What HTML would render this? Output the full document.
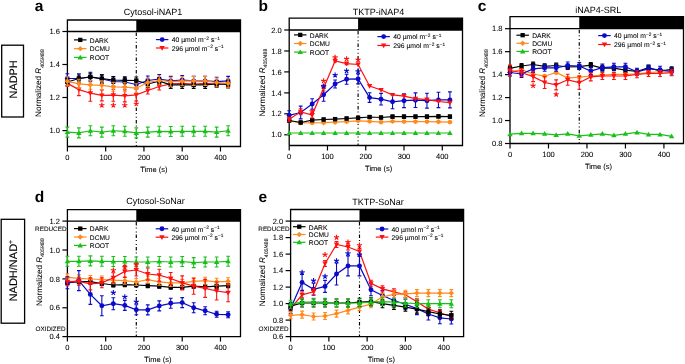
<!DOCTYPE html><html><head><meta charset="utf-8"><style>html,body{margin:0;padding:0;background:#fff;width:685px;height:364px;overflow:hidden}svg{display:block;will-change:transform}</style></head><body>
<svg width="685" height="364" viewBox="0 0 685 364" text-rendering="geometricPrecision" font-family='"Liberation Sans", sans-serif'>
<rect width="685" height="364" fill="#fff"/>
<rect x="1.7" y="45.2" width="21.8" height="71.8" fill="none" stroke="#000" stroke-width="1.3"/>
<text transform="translate(17.0,79.4) rotate(-90)" font-size="10.9" text-anchor="middle" fill="#000" stroke="#000" stroke-width="0.1">NADPH</text>
<rect x="1.2" y="219.3" width="23.4" height="103.9" fill="none" stroke="#000" stroke-width="1.3"/>
<text transform="translate(16.8,270.6) rotate(-90)" font-size="11" text-anchor="middle" fill="#000" stroke="#000" stroke-width="0.1">NADH/NAD<tspan font-size="7" dy="-4.3">+</tspan></text>
<text x="34.8" y="10.6" font-size="15.5" text-anchor="start" font-weight="bold">a</text>
<text x="153" y="14.5" font-size="9" text-anchor="middle" >Cytosol-iNAP1</text>
<rect x="136.29" y="20" width="104.21" height="11.5" fill="#000"/>
<path d="M67.4 146.5V20H240.5V146.5H67.4M67.4 31.5H240.5" stroke="#000" stroke-width="1.3" fill="none"/>
<path d="M62.4 31.5H67.4" stroke="#000" stroke-width="1.2"/>
<text x="59.9" y="34.1" font-size="7.5" text-anchor="end" fill="#000" stroke="#000" stroke-width="0.07">1.6</text>
<path d="M62.4 64.5H67.4" stroke="#000" stroke-width="1.2"/>
<text x="59.9" y="67.1" font-size="7.5" text-anchor="end" fill="#000" stroke="#000" stroke-width="0.07">1.4</text>
<path d="M62.4 97.5H67.4" stroke="#000" stroke-width="1.2"/>
<text x="59.9" y="100.1" font-size="7.5" text-anchor="end" fill="#000" stroke="#000" stroke-width="0.07">1.2</text>
<path d="M62.4 130.6H67.4" stroke="#000" stroke-width="1.2"/>
<text x="59.9" y="133.2" font-size="7.5" text-anchor="end" fill="#000" stroke="#000" stroke-width="0.07">1.0</text>
<path d="M67.4 146.5V151.5" stroke="#000" stroke-width="1.2"/>
<text x="67.4" y="160" font-size="7.5" text-anchor="middle" fill="#000" stroke="#000" stroke-width="0.07">0</text>
<path d="M105.67 146.5V151.5" stroke="#000" stroke-width="1.2"/>
<text x="105.67" y="160" font-size="7.5" text-anchor="middle" fill="#000" stroke="#000" stroke-width="0.07">100</text>
<path d="M143.94 146.5V151.5" stroke="#000" stroke-width="1.2"/>
<text x="143.94" y="160" font-size="7.5" text-anchor="middle" fill="#000" stroke="#000" stroke-width="0.07">200</text>
<path d="M182.21 146.5V151.5" stroke="#000" stroke-width="1.2"/>
<text x="182.21" y="160" font-size="7.5" text-anchor="middle" fill="#000" stroke="#000" stroke-width="0.07">300</text>
<path d="M220.48 146.5V151.5" stroke="#000" stroke-width="1.2"/>
<text x="220.48" y="160" font-size="7.5" text-anchor="middle" fill="#000" stroke="#000" stroke-width="0.07">400</text>
<text x="153.9" y="172.3" font-size="7.5" text-anchor="middle" fill="#000" stroke="#000" stroke-width="0.07">Time (s)</text>
<path d="M136.29 32.5V146.5" stroke="#000" stroke-width="1.15" stroke-dasharray="3.5 2 1 2.8 1 2.2"/>
<text transform="translate(41.3,49.1) rotate(-90)" font-size="8.1" text-anchor="end" fill="#000" stroke="#000" stroke-width="0.06">Normalized <tspan font-style="italic">R</tspan><tspan font-size="5.2" dy="2.4">405/488</tspan></text>
<path d="M74 39.9H86.5" stroke="#000" stroke-width="1.2"/>
<rect x="78.1" y="37.75" width="4.3" height="4.3" fill="#000"/>
<text x="89.8" y="42.7" font-size="6.7" text-anchor="start" fill="#000" stroke="#000" stroke-width="0.07">DARK</text>
<path d="M74 48.65H86.5" stroke="#ff8a1e" stroke-width="1.2"/>
<path d="M80.25 45.95L82.95 48.65L80.25 51.35L77.55 48.65Z" fill="#ff8a1e"/>
<text x="89.8" y="51.45" font-size="6.7" text-anchor="start" fill="#000" stroke="#000" stroke-width="0.07">DCMU</text>
<path d="M74 57.4H86.5" stroke="#18c018" stroke-width="1.2"/>
<path d="M80.25 54.7L82.95 59.42L77.55 59.42Z" fill="#18c018"/>
<text x="89.8" y="60.2" font-size="6.7" text-anchor="start" fill="#000" stroke="#000" stroke-width="0.07">ROOT</text>
<path d="M155.9 39.6H168.4" stroke="#0a0ac8" stroke-width="1.2"/>
<circle cx="162.15" cy="39.6" r="2.45" fill="#0a0ac8"/>
<text x="171.7" y="42.3" font-size="6.8" fill="#000" stroke="#000" stroke-width="0.07">40 µmol m<tspan font-size="4.8" dy="-2.5">−2</tspan><tspan dy="2.5"> s</tspan><tspan font-size="4.8" dy="-2.5">−1</tspan></text>
<path d="M155.9 48H168.4" stroke="#ff1010" stroke-width="1.2"/>
<path d="M162.15 50.7L164.85 45.98L159.45 45.98Z" fill="#ff1010"/>
<text x="171.7" y="50.7" font-size="6.8" fill="#000" stroke="#000" stroke-width="0.07">296 µmol m<tspan font-size="4.8" dy="-2.5">−2</tspan><tspan dy="2.5"> s</tspan><tspan font-size="4.8" dy="-2.5">−1</tspan></text>
<polyline points="67.4,132.08 78.88,132.87 90.36,130.76 101.84,132.08 113.32,130.76 124.81,131.29 136.29,132.87 147.77,132.08 159.25,131.29 170.73,131.55 182.21,131.29 193.69,131.29 205.17,131.29 216.65,132.08 228.13,130.76" stroke="#18c018" stroke-width="1.2" fill="none"/><path d="M67.4 127.08V137.08M65.5 127.08H69.3M65.5 137.08H69.3M78.88 127.87V137.87M76.98 127.87H80.78M76.98 137.87H80.78M90.36 125.76V135.76M88.46 125.76H92.26M88.46 135.76H92.26M101.84 127.08V137.08M99.94 127.08H103.74M99.94 137.08H103.74M113.32 125.76V135.76M111.42 125.76H115.22M111.42 135.76H115.22M124.81 126.29V136.29M122.91 126.29H126.71M122.91 136.29H126.71M136.29 127.87V137.87M134.39 127.87H138.19M134.39 137.87H138.19M147.77 127.08V137.08M145.87 127.08H149.67M145.87 137.08H149.67M159.25 126.29V136.29M157.35 126.29H161.15M157.35 136.29H161.15M170.73 126.55V136.55M168.83 126.55H172.63M168.83 136.55H172.63M182.21 126.29V136.29M180.31 126.29H184.11M180.31 136.29H184.11M193.69 126.29V136.29M191.79 126.29H195.59M191.79 136.29H195.59M205.17 126.29V136.29M203.27 126.29H207.07M203.27 136.29H207.07M216.65 127.08V137.08M214.75 127.08H218.55M214.75 137.08H218.55M228.13 125.76V135.76M226.23 125.76H230.03M226.23 135.76H230.03" stroke="#18c018" stroke-width="1.1" fill="none"/><path d="M67.4 129.38L70.1 134.1L64.7 134.1Z" fill="#18c018"/><path d="M78.88 130.17L81.58 134.89L76.18 134.89Z" fill="#18c018"/><path d="M90.36 128.06L93.06 132.79L87.66 132.79Z" fill="#18c018"/><path d="M101.84 129.38L104.54 134.1L99.14 134.1Z" fill="#18c018"/><path d="M113.32 128.06L116.02 132.79L110.62 132.79Z" fill="#18c018"/><path d="M124.81 128.59L127.51 133.32L122.11 133.32Z" fill="#18c018"/><path d="M136.29 130.17L138.99 134.89L133.59 134.89Z" fill="#18c018"/><path d="M147.77 129.38L150.47 134.1L145.07 134.1Z" fill="#18c018"/><path d="M159.25 128.59L161.95 133.32L156.55 133.32Z" fill="#18c018"/><path d="M170.73 128.85L173.43 133.58L168.03 133.58Z" fill="#18c018"/><path d="M182.21 128.59L184.91 133.32L179.51 133.32Z" fill="#18c018"/><path d="M193.69 128.59L196.39 133.32L190.99 133.32Z" fill="#18c018"/><path d="M205.17 128.59L207.87 133.32L202.47 133.32Z" fill="#18c018"/><path d="M216.65 129.38L219.35 134.1L213.95 134.1Z" fill="#18c018"/><path d="M228.13 128.06L230.83 132.79L225.43 132.79Z" fill="#18c018"/>
<polyline points="67.4,83.4 78.88,89.6 90.36,93.2 101.84,95.4 113.32,95.2 124.81,95.9 136.29,94.9 147.77,90.5 159.25,86.5 170.73,83.8 182.21,83.3 193.69,84 205.17,83.3 216.65,84 228.13,84" stroke="#ff1010" stroke-width="1.2" fill="none"/><path d="M67.4 80.4V86.4M65.5 80.4H69.3M65.5 86.4H69.3M78.88 83.6V95.6M76.98 83.6H80.78M76.98 95.6H80.78M90.36 85.2V101.2M88.46 85.2H92.26M88.46 101.2H92.26M101.84 89.9V100.9M99.94 89.9H103.74M99.94 100.9H103.74M113.32 89.2V101.2M111.42 89.2H115.22M111.42 101.2H115.22M124.81 89.9V101.9M122.91 89.9H126.71M122.91 101.9H126.71M136.29 88.9V100.9M134.39 88.9H138.19M134.39 100.9H138.19M147.77 87V94M145.87 87H149.67M145.87 94H149.67M159.25 83V90M157.35 83H161.15M157.35 90H161.15M170.73 81.3V86.3M168.83 81.3H172.63M168.83 86.3H172.63M182.21 80.8V85.8M180.31 80.8H184.11M180.31 85.8H184.11M193.69 81.5V86.5M191.79 81.5H195.59M191.79 86.5H195.59M205.17 80.8V85.8M203.27 80.8H207.07M203.27 85.8H207.07M216.65 81.5V86.5M214.75 81.5H218.55M214.75 86.5H218.55M228.13 81.5V86.5M226.23 81.5H230.03M226.23 86.5H230.03" stroke="#ff1010" stroke-width="1.1" fill="none"/><path d="M67.4 86.1L70.1 81.38L64.7 81.38Z" fill="#ff1010"/><path d="M78.88 92.3L81.58 87.57L76.18 87.57Z" fill="#ff1010"/><path d="M90.36 95.9L93.06 91.17L87.66 91.17Z" fill="#ff1010"/><path d="M101.84 98.1L104.54 93.38L99.14 93.38Z" fill="#ff1010"/><path d="M113.32 97.9L116.02 93.17L110.62 93.17Z" fill="#ff1010"/><path d="M124.81 98.6L127.51 93.88L122.11 93.88Z" fill="#ff1010"/><path d="M136.29 97.6L138.99 92.88L133.59 92.88Z" fill="#ff1010"/><path d="M147.77 93.2L150.47 88.47L145.07 88.47Z" fill="#ff1010"/><path d="M159.25 89.2L161.95 84.47L156.55 84.47Z" fill="#ff1010"/><path d="M170.73 86.5L173.43 81.77L168.03 81.77Z" fill="#ff1010"/><path d="M182.21 86L184.91 81.27L179.51 81.27Z" fill="#ff1010"/><path d="M193.69 86.7L196.39 81.97L190.99 81.97Z" fill="#ff1010"/><path d="M205.17 86L207.87 81.27L202.47 81.27Z" fill="#ff1010"/><path d="M216.65 86.7L219.35 81.97L213.95 81.97Z" fill="#ff1010"/><path d="M228.13 86.7L230.83 81.97L225.43 81.97Z" fill="#ff1010"/>
<polyline points="67.4,78.5 78.88,78.5 90.36,77 101.84,79 113.32,81.5 124.81,82 136.29,84.5 147.77,80.5 159.25,79 170.73,80.9 182.21,80 193.69,80.9 205.17,80.9 216.65,81.7 228.13,80.9" stroke="#0a0ac8" stroke-width="1.2" fill="none"/><path d="M67.4 73.7V83.3M65.5 73.7H69.3M65.5 83.3H69.3M78.88 73.7V83.3M76.98 73.7H80.78M76.98 83.3H80.78M90.36 72.2V81.8M88.46 72.2H92.26M88.46 81.8H92.26M101.84 74.5V83.5M99.94 74.5H103.74M99.94 83.5H103.74M113.32 77V86M111.42 77H115.22M111.42 86H115.22M124.81 77.5V86.5M122.91 77.5H126.71M122.91 86.5H126.71M136.29 80V89M134.39 80H138.19M134.39 89H138.19M147.77 76V85M145.87 76H149.67M145.87 85H149.67M159.25 74.5V83.5M157.35 74.5H161.15M157.35 83.5H161.15M170.73 76.4V85.4M168.83 76.4H172.63M168.83 85.4H172.63M182.21 75.5V84.5M180.31 75.5H184.11M180.31 84.5H184.11M193.69 76.4V85.4M191.79 76.4H195.59M191.79 85.4H195.59M205.17 76.4V85.4M203.27 76.4H207.07M203.27 85.4H207.07M216.65 77.2V86.2M214.75 77.2H218.55M214.75 86.2H218.55M228.13 76.4V85.4M226.23 76.4H230.03M226.23 85.4H230.03" stroke="#0a0ac8" stroke-width="1.1" fill="none"/><circle cx="67.4" cy="78.5" r="2.45" fill="#0a0ac8"/><circle cx="78.88" cy="78.5" r="2.45" fill="#0a0ac8"/><circle cx="90.36" cy="77" r="2.45" fill="#0a0ac8"/><circle cx="101.84" cy="79" r="2.45" fill="#0a0ac8"/><circle cx="113.32" cy="81.5" r="2.45" fill="#0a0ac8"/><circle cx="124.81" cy="82" r="2.45" fill="#0a0ac8"/><circle cx="136.29" cy="84.5" r="2.45" fill="#0a0ac8"/><circle cx="147.77" cy="80.5" r="2.45" fill="#0a0ac8"/><circle cx="159.25" cy="79" r="2.45" fill="#0a0ac8"/><circle cx="170.73" cy="80.9" r="2.45" fill="#0a0ac8"/><circle cx="182.21" cy="80" r="2.45" fill="#0a0ac8"/><circle cx="193.69" cy="80.9" r="2.45" fill="#0a0ac8"/><circle cx="205.17" cy="80.9" r="2.45" fill="#0a0ac8"/><circle cx="216.65" cy="81.7" r="2.45" fill="#0a0ac8"/><circle cx="228.13" cy="80.9" r="2.45" fill="#0a0ac8"/>
<polyline points="67.4,82 78.88,78.5 90.36,76.8 101.84,78.6 113.32,80 124.81,80.3 136.29,80.5 147.77,84 159.25,81.2 170.73,84.9 182.21,84.9 193.69,84.9 205.17,84.9 216.65,84 228.13,84.4" stroke="#000" stroke-width="1.2" fill="none"/><path d="M67.4 78.5V85.5M65.5 78.5H69.3M65.5 85.5H69.3M78.88 75V82M76.98 75H80.78M76.98 82H80.78M90.36 73.3V80.3M88.46 73.3H92.26M88.46 80.3H92.26M101.84 75.1V82.1M99.94 75.1H103.74M99.94 82.1H103.74M113.32 76.5V83.5M111.42 76.5H115.22M111.42 83.5H115.22M124.81 76.8V83.8M122.91 76.8H126.71M122.91 83.8H126.71M136.29 77V84M134.39 77H138.19M134.39 84H138.19M147.77 80.5V87.5M145.87 80.5H149.67M145.87 87.5H149.67M159.25 77.7V84.7M157.35 77.7H161.15M157.35 84.7H161.15M170.73 81.4V88.4M168.83 81.4H172.63M168.83 88.4H172.63M182.21 81.4V88.4M180.31 81.4H184.11M180.31 88.4H184.11M193.69 81.4V88.4M191.79 81.4H195.59M191.79 88.4H195.59M205.17 81.4V88.4M203.27 81.4H207.07M203.27 88.4H207.07M216.65 80.5V87.5M214.75 80.5H218.55M214.75 87.5H218.55M228.13 80.9V87.9M226.23 80.9H230.03M226.23 87.9H230.03" stroke="#000" stroke-width="1.1" fill="none"/><rect x="65.25" y="79.85" width="4.3" height="4.3" fill="#000"/><rect x="76.73" y="76.35" width="4.3" height="4.3" fill="#000"/><rect x="88.21" y="74.65" width="4.3" height="4.3" fill="#000"/><rect x="99.69" y="76.45" width="4.3" height="4.3" fill="#000"/><rect x="111.17" y="77.85" width="4.3" height="4.3" fill="#000"/><rect x="122.66" y="78.15" width="4.3" height="4.3" fill="#000"/><rect x="134.14" y="78.35" width="4.3" height="4.3" fill="#000"/><rect x="145.62" y="81.85" width="4.3" height="4.3" fill="#000"/><rect x="157.1" y="79.05" width="4.3" height="4.3" fill="#000"/><rect x="168.58" y="82.75" width="4.3" height="4.3" fill="#000"/><rect x="180.06" y="82.75" width="4.3" height="4.3" fill="#000"/><rect x="191.54" y="82.75" width="4.3" height="4.3" fill="#000"/><rect x="203.02" y="82.75" width="4.3" height="4.3" fill="#000"/><rect x="214.5" y="81.85" width="4.3" height="4.3" fill="#000"/><rect x="225.98" y="82.25" width="4.3" height="4.3" fill="#000"/>
<polyline points="67.4,81.3 78.88,83.8 90.36,84.8 101.84,85.3 113.32,86.8 124.81,87.2 136.29,88.2 147.77,82.5 159.25,80.5 170.73,81.7 182.21,81.2 193.69,80.9 205.17,80.9 216.65,82.5 228.13,83.3" stroke="#ff8a1e" stroke-width="1.2" fill="none"/><path d="M67.4 76.8V85.8M65.5 76.8H69.3M65.5 85.8H69.3M78.88 79.3V88.3M76.98 79.3H80.78M76.98 88.3H80.78M90.36 80.3V89.3M88.46 80.3H92.26M88.46 89.3H92.26M101.84 80.8V89.8M99.94 80.8H103.74M99.94 89.8H103.74M113.32 82.3V91.3M111.42 82.3H115.22M111.42 91.3H115.22M124.81 82.7V91.7M122.91 82.7H126.71M122.91 91.7H126.71M136.29 83.7V92.7M134.39 83.7H138.19M134.39 92.7H138.19M147.77 78V87M145.87 78H149.67M145.87 87H149.67M159.25 76V85M157.35 76H161.15M157.35 85H161.15M170.73 77.2V86.2M168.83 77.2H172.63M168.83 86.2H172.63M182.21 76.7V85.7M180.31 76.7H184.11M180.31 85.7H184.11M193.69 76.4V85.4M191.79 76.4H195.59M191.79 85.4H195.59M205.17 76.4V85.4M203.27 76.4H207.07M203.27 85.4H207.07M216.65 78V87M214.75 78H218.55M214.75 87H218.55M228.13 78.8V87.8M226.23 78.8H230.03M226.23 87.8H230.03" stroke="#ff8a1e" stroke-width="1.1" fill="none"/><path d="M67.4 78.6L70.1 81.3L67.4 84L64.7 81.3Z" fill="#ff8a1e"/><path d="M78.88 81.1L81.58 83.8L78.88 86.5L76.18 83.8Z" fill="#ff8a1e"/><path d="M90.36 82.1L93.06 84.8L90.36 87.5L87.66 84.8Z" fill="#ff8a1e"/><path d="M101.84 82.6L104.54 85.3L101.84 88L99.14 85.3Z" fill="#ff8a1e"/><path d="M113.32 84.1L116.02 86.8L113.32 89.5L110.62 86.8Z" fill="#ff8a1e"/><path d="M124.81 84.5L127.51 87.2L124.81 89.9L122.11 87.2Z" fill="#ff8a1e"/><path d="M136.29 85.5L138.99 88.2L136.29 90.9L133.59 88.2Z" fill="#ff8a1e"/><path d="M147.77 79.8L150.47 82.5L147.77 85.2L145.07 82.5Z" fill="#ff8a1e"/><path d="M159.25 77.8L161.95 80.5L159.25 83.2L156.55 80.5Z" fill="#ff8a1e"/><path d="M170.73 79L173.43 81.7L170.73 84.4L168.03 81.7Z" fill="#ff8a1e"/><path d="M182.21 78.5L184.91 81.2L182.21 83.9L179.51 81.2Z" fill="#ff8a1e"/><path d="M193.69 78.2L196.39 80.9L193.69 83.6L190.99 80.9Z" fill="#ff8a1e"/><path d="M205.17 78.2L207.87 80.9L205.17 83.6L202.47 80.9Z" fill="#ff8a1e"/><path d="M216.65 79.8L219.35 82.5L216.65 85.2L213.95 82.5Z" fill="#ff8a1e"/><path d="M228.13 80.6L230.83 83.3L228.13 86L225.43 83.3Z" fill="#ff8a1e"/>
<path d="M101.84 105.3L101.84 102.6M101.84 105.3L104.41 104.47M101.84 105.3L103.43 107.48M101.84 105.3L100.26 107.48M101.84 105.3L99.28 104.47" stroke="#ff1010" stroke-width="1.15" fill="none"/>
<path d="M113.32 105.3L113.32 102.6M113.32 105.3L115.89 104.47M113.32 105.3L114.91 107.48M113.32 105.3L111.74 107.48M113.32 105.3L110.76 104.47" stroke="#ff1010" stroke-width="1.15" fill="none"/>
<path d="M124.81 105.3L124.81 102.6M124.81 105.3L127.37 104.47M124.81 105.3L126.39 107.48M124.81 105.3L123.22 107.48M124.81 105.3L122.24 104.47" stroke="#ff1010" stroke-width="1.15" fill="none"/>
<path d="M136.29 103.8L136.29 101.1M136.29 103.8L138.85 102.97M136.29 103.8L137.87 105.98M136.29 103.8L134.7 105.98M136.29 103.8L133.72 102.97" stroke="#ff1010" stroke-width="1.15" fill="none"/>
<text x="258.6" y="11" font-size="15.5" text-anchor="start" font-weight="bold">b</text>
<text x="378.5" y="14.9" font-size="9" text-anchor="middle" >TKTP-iNAP4</text>
<rect x="358.09" y="18.2" width="104.41" height="11.8" fill="#000"/>
<path d="M289.2 145.5V18.2H462.5V145.5H289.2M289.2 30H462.5" stroke="#000" stroke-width="1.3" fill="none"/>
<path d="M284.2 30H289.2" stroke="#000" stroke-width="1.2"/>
<text x="281.7" y="32.6" font-size="7.5" text-anchor="end" fill="#000" stroke="#000" stroke-width="0.07">2.0</text>
<path d="M284.2 51H289.2" stroke="#000" stroke-width="1.2"/>
<text x="281.7" y="53.6" font-size="7.5" text-anchor="end" fill="#000" stroke="#000" stroke-width="0.07">1.8</text>
<path d="M284.2 71.9H289.2" stroke="#000" stroke-width="1.2"/>
<text x="281.7" y="74.5" font-size="7.5" text-anchor="end" fill="#000" stroke="#000" stroke-width="0.07">1.6</text>
<path d="M284.2 92.9H289.2" stroke="#000" stroke-width="1.2"/>
<text x="281.7" y="95.5" font-size="7.5" text-anchor="end" fill="#000" stroke="#000" stroke-width="0.07">1.4</text>
<path d="M284.2 113.8H289.2" stroke="#000" stroke-width="1.2"/>
<text x="281.7" y="116.4" font-size="7.5" text-anchor="end" fill="#000" stroke="#000" stroke-width="0.07">1.2</text>
<path d="M284.2 134.8H289.2" stroke="#000" stroke-width="1.2"/>
<text x="281.7" y="137.4" font-size="7.5" text-anchor="end" fill="#000" stroke="#000" stroke-width="0.07">1.0</text>
<path d="M289.2 145.5V150.5" stroke="#000" stroke-width="1.2"/>
<text x="289.2" y="159" font-size="7.5" text-anchor="middle" fill="#000" stroke="#000" stroke-width="0.07">0</text>
<path d="M327.47 145.5V150.5" stroke="#000" stroke-width="1.2"/>
<text x="327.47" y="159" font-size="7.5" text-anchor="middle" fill="#000" stroke="#000" stroke-width="0.07">100</text>
<path d="M365.74 145.5V150.5" stroke="#000" stroke-width="1.2"/>
<text x="365.74" y="159" font-size="7.5" text-anchor="middle" fill="#000" stroke="#000" stroke-width="0.07">200</text>
<path d="M404.01 145.5V150.5" stroke="#000" stroke-width="1.2"/>
<text x="404.01" y="159" font-size="7.5" text-anchor="middle" fill="#000" stroke="#000" stroke-width="0.07">300</text>
<path d="M442.28 145.5V150.5" stroke="#000" stroke-width="1.2"/>
<text x="442.28" y="159" font-size="7.5" text-anchor="middle" fill="#000" stroke="#000" stroke-width="0.07">400</text>
<text x="378.7" y="171.3" font-size="7.5" text-anchor="middle" fill="#000" stroke="#000" stroke-width="0.07">Time (s)</text>
<path d="M358.09 31V145.5" stroke="#000" stroke-width="1.15" stroke-dasharray="3.5 2 1 2.8 1 2.2"/>
<text transform="translate(264.8,48.7) rotate(-90)" font-size="8.1" text-anchor="end" fill="#000" stroke="#000" stroke-width="0.06">Normalized <tspan font-style="italic">R</tspan><tspan font-size="5.2" dy="2.4">405/488</tspan></text>
<path d="M294 34.9H306.5" stroke="#000" stroke-width="1.2"/>
<rect x="298.1" y="32.75" width="4.3" height="4.3" fill="#000"/>
<text x="309.8" y="37.7" font-size="6.7" text-anchor="start" fill="#000" stroke="#000" stroke-width="0.07">DARK</text>
<path d="M294 43.5H306.5" stroke="#ff8a1e" stroke-width="1.2"/>
<path d="M300.25 40.8L302.95 43.5L300.25 46.2L297.55 43.5Z" fill="#ff8a1e"/>
<text x="309.8" y="46.3" font-size="6.7" text-anchor="start" fill="#000" stroke="#000" stroke-width="0.07">DCMU</text>
<path d="M294 52.1H306.5" stroke="#18c018" stroke-width="1.2"/>
<path d="M300.25 49.4L302.95 54.12L297.55 54.12Z" fill="#18c018"/>
<text x="309.8" y="54.9" font-size="6.7" text-anchor="start" fill="#000" stroke="#000" stroke-width="0.07">ROOT</text>
<path d="M377.4 36.6H389.9" stroke="#0a0ac8" stroke-width="1.2"/>
<circle cx="383.65" cy="36.6" r="2.45" fill="#0a0ac8"/>
<text x="393.2" y="39.3" font-size="6.8" fill="#000" stroke="#000" stroke-width="0.07">40 µmol m<tspan font-size="4.8" dy="-2.5">−2</tspan><tspan dy="2.5"> s</tspan><tspan font-size="4.8" dy="-2.5">−1</tspan></text>
<path d="M377.4 45.5H389.9" stroke="#ff1010" stroke-width="1.2"/>
<path d="M383.65 48.2L386.35 43.48L380.95 43.48Z" fill="#ff1010"/>
<text x="393.2" y="48.2" font-size="6.8" fill="#000" stroke="#000" stroke-width="0.07">296 µmol m<tspan font-size="4.8" dy="-2.5">−2</tspan><tspan dy="2.5"> s</tspan><tspan font-size="4.8" dy="-2.5">−1</tspan></text>
<polyline points="289.2,133 300.68,133 312.16,133 323.64,133 335.12,133 346.61,133 358.09,133 369.57,133 381.05,133 392.53,133 404.01,133 415.49,133 426.97,133 438.45,133 449.93,133" stroke="#18c018" stroke-width="1.2" fill="none"/><path d="M289.2 130.3L291.9 135.03L286.5 135.03Z" fill="#18c018"/><path d="M300.68 130.3L303.38 135.03L297.98 135.03Z" fill="#18c018"/><path d="M312.16 130.3L314.86 135.03L309.46 135.03Z" fill="#18c018"/><path d="M323.64 130.3L326.34 135.03L320.94 135.03Z" fill="#18c018"/><path d="M335.12 130.3L337.82 135.03L332.42 135.03Z" fill="#18c018"/><path d="M346.61 130.3L349.31 135.03L343.91 135.03Z" fill="#18c018"/><path d="M358.09 130.3L360.79 135.03L355.39 135.03Z" fill="#18c018"/><path d="M369.57 130.3L372.27 135.03L366.87 135.03Z" fill="#18c018"/><path d="M381.05 130.3L383.75 135.03L378.35 135.03Z" fill="#18c018"/><path d="M392.53 130.3L395.23 135.03L389.83 135.03Z" fill="#18c018"/><path d="M404.01 130.3L406.71 135.03L401.31 135.03Z" fill="#18c018"/><path d="M415.49 130.3L418.19 135.03L412.79 135.03Z" fill="#18c018"/><path d="M426.97 130.3L429.67 135.03L424.27 135.03Z" fill="#18c018"/><path d="M438.45 130.3L441.15 135.03L435.75 135.03Z" fill="#18c018"/><path d="M449.93 130.3L452.63 135.03L447.23 135.03Z" fill="#18c018"/>
<polyline points="289.2,120.8 300.68,122.7 312.16,122.9 323.64,122.7 335.12,122.2 346.61,121.6 358.09,120.8 369.57,121.4 381.05,122.1 392.53,121.4 404.01,121.6 415.49,121.6 426.97,121.6 438.45,121.8 449.93,122.1" stroke="#ff8a1e" stroke-width="1.2" fill="none"/><path d="M289.2 119.8V121.8M287.3 119.8H291.1M287.3 121.8H291.1M300.68 121.7V123.7M298.78 121.7H302.58M298.78 123.7H302.58M312.16 121.9V123.9M310.26 121.9H314.06M310.26 123.9H314.06M323.64 121.7V123.7M321.74 121.7H325.54M321.74 123.7H325.54M335.12 121.2V123.2M333.22 121.2H337.02M333.22 123.2H337.02M346.61 120.6V122.6M344.71 120.6H348.5M344.71 122.6H348.5M358.09 119.8V121.8M356.19 119.8H359.99M356.19 121.8H359.99M369.57 120.4V122.4M367.67 120.4H371.47M367.67 122.4H371.47M381.05 121.1V123.1M379.15 121.1H382.95M379.15 123.1H382.95M392.53 120.4V122.4M390.63 120.4H394.43M390.63 122.4H394.43M404.01 120.6V122.6M402.11 120.6H405.91M402.11 122.6H405.91M415.49 120.6V122.6M413.59 120.6H417.39M413.59 122.6H417.39M426.97 120.6V122.6M425.07 120.6H428.87M425.07 122.6H428.87M438.45 120.8V122.8M436.55 120.8H440.35M436.55 122.8H440.35M449.93 121.1V123.1M448.03 121.1H451.83M448.03 123.1H451.83" stroke="#ff8a1e" stroke-width="1.1" fill="none"/><path d="M289.2 118.1L291.9 120.8L289.2 123.5L286.5 120.8Z" fill="#ff8a1e"/><path d="M300.68 120L303.38 122.7L300.68 125.4L297.98 122.7Z" fill="#ff8a1e"/><path d="M312.16 120.2L314.86 122.9L312.16 125.6L309.46 122.9Z" fill="#ff8a1e"/><path d="M323.64 120L326.34 122.7L323.64 125.4L320.94 122.7Z" fill="#ff8a1e"/><path d="M335.12 119.5L337.82 122.2L335.12 124.9L332.42 122.2Z" fill="#ff8a1e"/><path d="M346.61 118.9L349.31 121.6L346.61 124.3L343.91 121.6Z" fill="#ff8a1e"/><path d="M358.09 118.1L360.79 120.8L358.09 123.5L355.39 120.8Z" fill="#ff8a1e"/><path d="M369.57 118.7L372.27 121.4L369.57 124.1L366.87 121.4Z" fill="#ff8a1e"/><path d="M381.05 119.4L383.75 122.1L381.05 124.8L378.35 122.1Z" fill="#ff8a1e"/><path d="M392.53 118.7L395.23 121.4L392.53 124.1L389.83 121.4Z" fill="#ff8a1e"/><path d="M404.01 118.9L406.71 121.6L404.01 124.3L401.31 121.6Z" fill="#ff8a1e"/><path d="M415.49 118.9L418.19 121.6L415.49 124.3L412.79 121.6Z" fill="#ff8a1e"/><path d="M426.97 118.9L429.67 121.6L426.97 124.3L424.27 121.6Z" fill="#ff8a1e"/><path d="M438.45 119.1L441.15 121.8L438.45 124.5L435.75 121.8Z" fill="#ff8a1e"/><path d="M449.93 119.4L452.63 122.1L449.93 124.8L447.23 122.1Z" fill="#ff8a1e"/>
<polyline points="289.2,120.5 300.68,122.5 312.16,120.1 323.64,119.5 335.12,119.1 346.61,118.5 358.09,117.8 369.57,117 381.05,117.5 392.53,116.6 404.01,116.6 415.49,116.6 426.97,116.6 438.45,116.4 449.93,116.6" stroke="#000" stroke-width="1.2" fill="none"/><path d="M289.2 119V122M287.3 119H291.1M287.3 122H291.1M300.68 121V124M298.78 121H302.58M298.78 124H302.58M312.16 118.6V121.6M310.26 118.6H314.06M310.26 121.6H314.06M323.64 118V121M321.74 118H325.54M321.74 121H325.54M335.12 117.6V120.6M333.22 117.6H337.02M333.22 120.6H337.02M346.61 117V120M344.71 117H348.5M344.71 120H348.5M358.09 116.3V119.3M356.19 116.3H359.99M356.19 119.3H359.99M369.57 115.5V118.5M367.67 115.5H371.47M367.67 118.5H371.47M381.05 116V119M379.15 116H382.95M379.15 119H382.95M392.53 115.1V118.1M390.63 115.1H394.43M390.63 118.1H394.43M404.01 115.1V118.1M402.11 115.1H405.91M402.11 118.1H405.91M415.49 115.1V118.1M413.59 115.1H417.39M413.59 118.1H417.39M426.97 115.1V118.1M425.07 115.1H428.87M425.07 118.1H428.87M438.45 114.9V117.9M436.55 114.9H440.35M436.55 117.9H440.35M449.93 115.1V118.1M448.03 115.1H451.83M448.03 118.1H451.83" stroke="#000" stroke-width="1.1" fill="none"/><rect x="287.05" y="118.35" width="4.3" height="4.3" fill="#000"/><rect x="298.53" y="120.35" width="4.3" height="4.3" fill="#000"/><rect x="310.01" y="117.95" width="4.3" height="4.3" fill="#000"/><rect x="321.49" y="117.35" width="4.3" height="4.3" fill="#000"/><rect x="332.97" y="116.95" width="4.3" height="4.3" fill="#000"/><rect x="344.46" y="116.35" width="4.3" height="4.3" fill="#000"/><rect x="355.94" y="115.65" width="4.3" height="4.3" fill="#000"/><rect x="367.42" y="114.85" width="4.3" height="4.3" fill="#000"/><rect x="378.9" y="115.35" width="4.3" height="4.3" fill="#000"/><rect x="390.38" y="114.45" width="4.3" height="4.3" fill="#000"/><rect x="401.86" y="114.45" width="4.3" height="4.3" fill="#000"/><rect x="413.34" y="114.45" width="4.3" height="4.3" fill="#000"/><rect x="424.82" y="114.45" width="4.3" height="4.3" fill="#000"/><rect x="436.3" y="114.25" width="4.3" height="4.3" fill="#000"/><rect x="447.78" y="114.45" width="4.3" height="4.3" fill="#000"/>
<polyline points="289.2,115.3 300.68,112.5 312.16,104 323.64,94.8 335.12,84 346.61,79.2 358.09,78.9 369.57,97.6 381.05,99.2 392.53,101.8 404.01,100.7 415.49,100.2 426.97,100.7 438.45,99.9 449.93,99.9" stroke="#0a0ac8" stroke-width="1.2" fill="none"/><path d="M289.2 110.8V119.8M287.3 110.8H291.1M287.3 119.8H291.1M300.68 106.1V118.9M298.78 106.1H302.58M298.78 118.9H302.58M312.16 98.7V109.3M310.26 98.7H314.06M310.26 109.3H314.06M323.64 88.4V101.2M321.74 88.4H325.54M321.74 101.2H325.54M335.12 80V88M333.22 80H337.02M333.22 88H337.02M346.61 74.2V84.2M344.71 74.2H348.5M344.71 84.2H348.5M358.09 73.9V83.9M356.19 73.9H359.99M356.19 83.9H359.99M369.57 92.8V102.4M367.67 92.8H371.47M367.67 102.4H371.47M381.05 93.4V105M379.15 93.4H382.95M379.15 105H382.95M392.53 94.9V108.7M390.63 94.9H394.43M390.63 108.7H394.43M404.01 93.8V107.6M402.11 93.8H405.91M402.11 107.6H405.91M415.49 92.9V107.5M413.59 92.9H417.39M413.59 107.5H417.39M426.97 93.3V108.1M425.07 93.3H428.87M425.07 108.1H428.87M438.45 92.2V107.6M436.55 92.2H440.35M436.55 107.6H440.35M449.93 91.9V107.9M448.03 91.9H451.83M448.03 107.9H451.83" stroke="#0a0ac8" stroke-width="1.1" fill="none"/><circle cx="289.2" cy="115.3" r="2.45" fill="#0a0ac8"/><circle cx="300.68" cy="112.5" r="2.45" fill="#0a0ac8"/><circle cx="312.16" cy="104" r="2.45" fill="#0a0ac8"/><circle cx="323.64" cy="94.8" r="2.45" fill="#0a0ac8"/><circle cx="335.12" cy="84" r="2.45" fill="#0a0ac8"/><circle cx="346.61" cy="79.2" r="2.45" fill="#0a0ac8"/><circle cx="358.09" cy="78.9" r="2.45" fill="#0a0ac8"/><circle cx="369.57" cy="97.6" r="2.45" fill="#0a0ac8"/><circle cx="381.05" cy="99.2" r="2.45" fill="#0a0ac8"/><circle cx="392.53" cy="101.8" r="2.45" fill="#0a0ac8"/><circle cx="404.01" cy="100.7" r="2.45" fill="#0a0ac8"/><circle cx="415.49" cy="100.2" r="2.45" fill="#0a0ac8"/><circle cx="426.97" cy="100.7" r="2.45" fill="#0a0ac8"/><circle cx="438.45" cy="99.9" r="2.45" fill="#0a0ac8"/><circle cx="449.93" cy="99.9" r="2.45" fill="#0a0ac8"/>
<polyline points="289.2,119.3 300.68,111.8 312.16,115 323.64,88 335.12,61 346.61,63.6 358.09,64.5 369.57,86.1 381.05,90 392.53,94.9 404.01,96.1 415.49,98.7 426.97,99.6 438.45,101.5 449.93,102.7" stroke="#ff1010" stroke-width="1.2" fill="none"/><path d="M289.2 117.3V121.3M287.3 117.3H291.1M287.3 121.3H291.1M300.68 108.8V114.8M298.78 108.8H302.58M298.78 114.8H302.58M312.16 112V118M310.26 112H314.06M310.26 118H314.06M323.64 85V91M321.74 85H325.54M321.74 91H325.54M335.12 60V62M333.22 60H337.02M333.22 62H337.02M346.61 62.6V64.6M344.71 62.6H348.5M344.71 64.6H348.5" stroke="#ff1010" stroke-width="1.1" fill="none"/><path d="M289.2 122L291.9 117.27L286.5 117.27Z" fill="#ff1010"/><path d="M300.68 114.5L303.38 109.77L297.98 109.77Z" fill="#ff1010"/><path d="M312.16 117.7L314.86 112.97L309.46 112.97Z" fill="#ff1010"/><path d="M323.64 90.7L326.34 85.97L320.94 85.97Z" fill="#ff1010"/><path d="M335.12 63.7L337.82 58.98L332.42 58.98Z" fill="#ff1010"/><path d="M346.61 66.3L349.31 61.58L343.91 61.58Z" fill="#ff1010"/><path d="M358.09 67.2L360.79 62.48L355.39 62.48Z" fill="#ff1010"/><path d="M369.57 88.8L372.27 84.07L366.87 84.07Z" fill="#ff1010"/><path d="M381.05 92.7L383.75 87.97L378.35 87.97Z" fill="#ff1010"/><path d="M392.53 97.6L395.23 92.88L389.83 92.88Z" fill="#ff1010"/><path d="M404.01 98.8L406.71 94.07L401.31 94.07Z" fill="#ff1010"/><path d="M415.49 101.4L418.19 96.67L412.79 96.67Z" fill="#ff1010"/><path d="M426.97 102.3L429.67 97.57L424.27 97.57Z" fill="#ff1010"/><path d="M438.45 104.2L441.15 99.47L435.75 99.47Z" fill="#ff1010"/><path d="M449.93 105.4L452.63 100.67L447.23 100.67Z" fill="#ff1010"/>
<path d="M312.16 111.3L312.16 108.6M312.16 111.3L314.73 110.47M312.16 111.3L313.75 113.48M312.16 111.3L310.57 113.48M312.16 111.3L309.59 110.47" stroke="#ff1010" stroke-width="1.15" fill="none"/>
<path d="M323.64 81L323.64 78.3M323.64 81L326.21 80.17M323.64 81L325.23 83.18M323.64 81L322.06 83.18M323.64 81L321.08 80.17" stroke="#ff1010" stroke-width="1.15" fill="none"/>
<path d="M335.12 57.5L335.12 54.8M335.12 57.5L337.69 56.67M335.12 57.5L336.71 59.68M335.12 57.5L333.54 59.68M335.12 57.5L332.56 56.67" stroke="#ff1010" stroke-width="1.15" fill="none"/>
<path d="M346.61 59L346.61 56.3M346.61 59L349.17 58.17M346.61 59L348.19 61.18M346.61 59L345.02 61.18M346.61 59L344.04 58.17" stroke="#ff1010" stroke-width="1.15" fill="none"/>
<path d="M358.09 59.9L358.09 57.2M358.09 59.9L360.65 59.07M358.09 59.9L359.67 62.08M358.09 59.9L356.5 62.08M358.09 59.9L355.52 59.07" stroke="#ff1010" stroke-width="1.15" fill="none"/>
<path d="M323.64 86.2L323.64 83.5M323.64 86.2L326.21 85.37M323.64 86.2L325.23 88.38M323.64 86.2L322.06 88.38M323.64 86.2L321.08 85.37" stroke="#0a0ac8" stroke-width="1.15" fill="none"/>
<path d="M335.12 75.2L335.12 72.5M335.12 75.2L337.69 74.37M335.12 75.2L336.71 77.38M335.12 75.2L333.54 77.38M335.12 75.2L332.56 74.37" stroke="#0a0ac8" stroke-width="1.15" fill="none"/>
<path d="M346.61 70.9L346.61 68.2M346.61 70.9L349.17 70.07M346.61 70.9L348.19 73.08M346.61 70.9L345.02 73.08M346.61 70.9L344.04 70.07" stroke="#0a0ac8" stroke-width="1.15" fill="none"/>
<path d="M358.09 71.5L358.09 68.8M358.09 71.5L360.65 70.67M358.09 71.5L359.67 73.68M358.09 71.5L356.5 73.68M358.09 71.5L355.52 70.67" stroke="#0a0ac8" stroke-width="1.15" fill="none"/>
<text x="477.8" y="10.7" font-size="15.5" text-anchor="start" font-weight="bold">c</text>
<text x="598.2" y="13.1" font-size="9" text-anchor="middle" >iNAP4-SRL</text>
<rect x="579.26" y="16.7" width="104.24" height="12" fill="#000"/>
<path d="M510 143.5V16.7H683.5V143.5H510M510 28.7H683.5" stroke="#000" stroke-width="1.3" fill="none"/>
<path d="M505 28.7H510" stroke="#000" stroke-width="1.2"/>
<text x="502.5" y="31.3" font-size="7.5" text-anchor="end" fill="#000" stroke="#000" stroke-width="0.07">1.8</text>
<path d="M505 51.66H510" stroke="#000" stroke-width="1.2"/>
<text x="502.5" y="54.26" font-size="7.5" text-anchor="end" fill="#000" stroke="#000" stroke-width="0.07">1.6</text>
<path d="M505 74.62H510" stroke="#000" stroke-width="1.2"/>
<text x="502.5" y="77.22" font-size="7.5" text-anchor="end" fill="#000" stroke="#000" stroke-width="0.07">1.4</text>
<path d="M505 97.58H510" stroke="#000" stroke-width="1.2"/>
<text x="502.5" y="100.18" font-size="7.5" text-anchor="end" fill="#000" stroke="#000" stroke-width="0.07">1.2</text>
<path d="M505 120.54H510" stroke="#000" stroke-width="1.2"/>
<text x="502.5" y="123.14" font-size="7.5" text-anchor="end" fill="#000" stroke="#000" stroke-width="0.07">1.0</text>
<path d="M505 143.5H510" stroke="#000" stroke-width="1.2"/>
<text x="502.5" y="146.1" font-size="7.5" text-anchor="end" fill="#000" stroke="#000" stroke-width="0.07">0.8</text>
<path d="M510 143.5V148.5" stroke="#000" stroke-width="1.2"/>
<text x="510" y="157" font-size="7.5" text-anchor="middle" fill="#000" stroke="#000" stroke-width="0.07">0</text>
<path d="M548.48 143.5V148.5" stroke="#000" stroke-width="1.2"/>
<text x="548.48" y="157" font-size="7.5" text-anchor="middle" fill="#000" stroke="#000" stroke-width="0.07">100</text>
<path d="M586.96 143.5V148.5" stroke="#000" stroke-width="1.2"/>
<text x="586.96" y="157" font-size="7.5" text-anchor="middle" fill="#000" stroke="#000" stroke-width="0.07">200</text>
<path d="M625.44 143.5V148.5" stroke="#000" stroke-width="1.2"/>
<text x="625.44" y="157" font-size="7.5" text-anchor="middle" fill="#000" stroke="#000" stroke-width="0.07">300</text>
<path d="M663.92 143.5V148.5" stroke="#000" stroke-width="1.2"/>
<text x="663.92" y="157" font-size="7.5" text-anchor="middle" fill="#000" stroke="#000" stroke-width="0.07">400</text>
<text x="598.5" y="169.3" font-size="7.5" text-anchor="middle" fill="#000" stroke="#000" stroke-width="0.07">Time (s)</text>
<path d="M579.26 29.7V143.5" stroke="#000" stroke-width="1.15" stroke-dasharray="3.5 2 1 2.8 1 2.2"/>
<text transform="translate(485.3,49.1) rotate(-90)" font-size="8.1" text-anchor="end" fill="#000" stroke="#000" stroke-width="0.06">Normalized <tspan font-style="italic">R</tspan><tspan font-size="5.2" dy="2.4">405/488</tspan></text>
<path d="M516.4 35.2H528.9" stroke="#000" stroke-width="1.2"/>
<rect x="520.5" y="33.05" width="4.3" height="4.3" fill="#000"/>
<text x="532.2" y="38" font-size="6.7" text-anchor="start" fill="#000" stroke="#000" stroke-width="0.07">DARK</text>
<path d="M516.4 43.3H528.9" stroke="#ff8a1e" stroke-width="1.2"/>
<path d="M522.65 40.6L525.35 43.3L522.65 46L519.95 43.3Z" fill="#ff8a1e"/>
<text x="532.2" y="46.1" font-size="6.7" text-anchor="start" fill="#000" stroke="#000" stroke-width="0.07">DCMU</text>
<path d="M516.4 51.4H528.9" stroke="#18c018" stroke-width="1.2"/>
<path d="M522.65 48.7L525.35 53.43L519.95 53.43Z" fill="#18c018"/>
<text x="532.2" y="54.2" font-size="6.7" text-anchor="start" fill="#000" stroke="#000" stroke-width="0.07">ROOT</text>
<path d="M598.2 35.6H610.7" stroke="#0a0ac8" stroke-width="1.2"/>
<circle cx="604.45" cy="35.6" r="2.45" fill="#0a0ac8"/>
<text x="614" y="38.3" font-size="6.8" fill="#000" stroke="#000" stroke-width="0.07">40 µmol m<tspan font-size="4.8" dy="-2.5">−2</tspan><tspan dy="2.5"> s</tspan><tspan font-size="4.8" dy="-2.5">−1</tspan></text>
<path d="M598.2 44.5H610.7" stroke="#ff1010" stroke-width="1.2"/>
<path d="M604.45 47.2L607.15 42.48L601.75 42.48Z" fill="#ff1010"/>
<text x="614" y="47.2" font-size="6.8" fill="#000" stroke="#000" stroke-width="0.07">296 µmol m<tspan font-size="4.8" dy="-2.5">−2</tspan><tspan dy="2.5"> s</tspan><tspan font-size="4.8" dy="-2.5">−1</tspan></text>
<polyline points="510,134.2 521.54,133.3 533.09,133.3 544.63,133.8 556.18,134.9 567.72,133.8 579.26,135.8 590.81,134.8 602.35,133.8 613.9,135.3 625.44,133.8 636.98,132.4 648.53,134.4 660.07,134.4 671.62,136.3" stroke="#18c018" stroke-width="1.2" fill="none"/><path d="M510 131.5L512.7 136.22L507.3 136.22Z" fill="#18c018"/><path d="M521.54 130.6L524.24 135.33L518.84 135.33Z" fill="#18c018"/><path d="M533.09 130.6L535.79 135.33L530.39 135.33Z" fill="#18c018"/><path d="M544.63 131.1L547.33 135.83L541.93 135.83Z" fill="#18c018"/><path d="M556.18 132.2L558.88 136.93L553.48 136.93Z" fill="#18c018"/><path d="M567.72 131.1L570.42 135.83L565.02 135.83Z" fill="#18c018"/><path d="M579.26 133.1L581.96 137.83L576.56 137.83Z" fill="#18c018"/><path d="M590.81 132.1L593.51 136.83L588.11 136.83Z" fill="#18c018"/><path d="M602.35 131.1L605.05 135.83L599.65 135.83Z" fill="#18c018"/><path d="M613.9 132.6L616.6 137.33L611.2 137.33Z" fill="#18c018"/><path d="M625.44 131.1L628.14 135.83L622.74 135.83Z" fill="#18c018"/><path d="M636.98 129.7L639.68 134.43L634.28 134.43Z" fill="#18c018"/><path d="M648.53 131.7L651.23 136.43L645.83 136.43Z" fill="#18c018"/><path d="M660.07 131.7L662.77 136.43L657.37 136.43Z" fill="#18c018"/><path d="M671.62 133.6L674.32 138.33L668.92 138.33Z" fill="#18c018"/>
<polyline points="510,72.2 521.54,69.6 533.09,74 544.63,76.2 556.18,72.5 567.72,78.1 579.26,77.2 590.81,76 602.35,75.2 613.9,74.3 625.44,74.3 636.98,73.8 648.53,72.7 660.07,71.8 671.62,71.8" stroke="#ff8a1e" stroke-width="1.2" fill="none"/><path d="M510 70.7V73.7M508.1 70.7H511.9M508.1 73.7H511.9M521.54 68.1V71.1M519.64 68.1H523.44M519.64 71.1H523.44M533.09 72.5V75.5M531.19 72.5H534.99M531.19 75.5H534.99M544.63 74.7V77.7M542.73 74.7H546.53M542.73 77.7H546.53M556.18 71V74M554.28 71H558.08M554.28 74H558.08M567.72 76.6V79.6M565.82 76.6H569.62M565.82 79.6H569.62M579.26 75.7V78.7M577.36 75.7H581.16M577.36 78.7H581.16M590.81 74.5V77.5M588.91 74.5H592.71M588.91 77.5H592.71M602.35 73.7V76.7M600.45 73.7H604.25M600.45 76.7H604.25M613.9 72.8V75.8M612 72.8H615.8M612 75.8H615.8M625.44 72.8V75.8M623.54 72.8H627.34M623.54 75.8H627.34M636.98 72.3V75.3M635.08 72.3H638.88M635.08 75.3H638.88M648.53 71.2V74.2M646.63 71.2H650.43M646.63 74.2H650.43M660.07 70.3V73.3M658.17 70.3H661.97M658.17 73.3H661.97M671.62 70.3V73.3M669.72 70.3H673.52M669.72 73.3H673.52" stroke="#ff8a1e" stroke-width="1.1" fill="none"/><path d="M510 69.5L512.7 72.2L510 74.9L507.3 72.2Z" fill="#ff8a1e"/><path d="M521.54 66.9L524.24 69.6L521.54 72.3L518.84 69.6Z" fill="#ff8a1e"/><path d="M533.09 71.3L535.79 74L533.09 76.7L530.39 74Z" fill="#ff8a1e"/><path d="M544.63 73.5L547.33 76.2L544.63 78.9L541.93 76.2Z" fill="#ff8a1e"/><path d="M556.18 69.8L558.88 72.5L556.18 75.2L553.48 72.5Z" fill="#ff8a1e"/><path d="M567.72 75.4L570.42 78.1L567.72 80.8L565.02 78.1Z" fill="#ff8a1e"/><path d="M579.26 74.5L581.96 77.2L579.26 79.9L576.56 77.2Z" fill="#ff8a1e"/><path d="M590.81 73.3L593.51 76L590.81 78.7L588.11 76Z" fill="#ff8a1e"/><path d="M602.35 72.5L605.05 75.2L602.35 77.9L599.65 75.2Z" fill="#ff8a1e"/><path d="M613.9 71.6L616.6 74.3L613.9 77L611.2 74.3Z" fill="#ff8a1e"/><path d="M625.44 71.6L628.14 74.3L625.44 77L622.74 74.3Z" fill="#ff8a1e"/><path d="M636.98 71.1L639.68 73.8L636.98 76.5L634.28 73.8Z" fill="#ff8a1e"/><path d="M648.53 70L651.23 72.7L648.53 75.4L645.83 72.7Z" fill="#ff8a1e"/><path d="M660.07 69.1L662.77 71.8L660.07 74.5L657.37 71.8Z" fill="#ff8a1e"/><path d="M671.62 69.1L674.32 71.8L671.62 74.5L668.92 71.8Z" fill="#ff8a1e"/>
<polyline points="510,68.4 521.54,66 533.09,64.5 544.63,66.4 556.18,65.5 567.72,67 579.26,66.7 590.81,65.1 602.35,68.1 613.9,68.1 625.44,70.1 636.98,71.5 648.53,67.6 660.07,71 671.62,69.3" stroke="#000" stroke-width="1.2" fill="none"/><path d="M510 65.9V70.9M508.1 65.9H511.9M508.1 70.9H511.9M521.54 63.5V68.5M519.64 63.5H523.44M519.64 68.5H523.44M533.09 62V67M531.19 62H534.99M531.19 67H534.99M544.63 63.9V68.9M542.73 63.9H546.53M542.73 68.9H546.53M556.18 63V68M554.28 63H558.08M554.28 68H558.08M567.72 64.5V69.5M565.82 64.5H569.62M565.82 69.5H569.62M579.26 64.2V69.2M577.36 64.2H581.16M577.36 69.2H581.16M590.81 62.6V67.6M588.91 62.6H592.71M588.91 67.6H592.71M602.35 65.6V70.6M600.45 65.6H604.25M600.45 70.6H604.25M613.9 65.6V70.6M612 65.6H615.8M612 70.6H615.8M625.44 67.6V72.6M623.54 67.6H627.34M623.54 72.6H627.34M636.98 69V74M635.08 69H638.88M635.08 74H638.88M648.53 65.1V70.1M646.63 65.1H650.43M646.63 70.1H650.43M660.07 68.5V73.5M658.17 68.5H661.97M658.17 73.5H661.97M671.62 66.8V71.8M669.72 66.8H673.52M669.72 71.8H673.52" stroke="#000" stroke-width="1.1" fill="none"/><rect x="507.85" y="66.25" width="4.3" height="4.3" fill="#000"/><rect x="519.39" y="63.85" width="4.3" height="4.3" fill="#000"/><rect x="530.94" y="62.35" width="4.3" height="4.3" fill="#000"/><rect x="542.48" y="64.25" width="4.3" height="4.3" fill="#000"/><rect x="554.03" y="63.35" width="4.3" height="4.3" fill="#000"/><rect x="565.57" y="64.85" width="4.3" height="4.3" fill="#000"/><rect x="577.11" y="64.55" width="4.3" height="4.3" fill="#000"/><rect x="588.66" y="62.95" width="4.3" height="4.3" fill="#000"/><rect x="600.2" y="65.95" width="4.3" height="4.3" fill="#000"/><rect x="611.75" y="65.95" width="4.3" height="4.3" fill="#000"/><rect x="623.29" y="67.95" width="4.3" height="4.3" fill="#000"/><rect x="634.83" y="69.35" width="4.3" height="4.3" fill="#000"/><rect x="646.38" y="65.45" width="4.3" height="4.3" fill="#000"/><rect x="657.92" y="68.85" width="4.3" height="4.3" fill="#000"/><rect x="669.47" y="67.15" width="4.3" height="4.3" fill="#000"/>
<polyline points="510,72.5 521.54,74 533.09,68.9 544.63,67.8 556.18,67.8 567.72,65.5 579.26,66 590.81,71 602.35,67.6 613.9,66.8 625.44,66.8 636.98,71.8 648.53,68.8 660.07,69.8 671.62,71.5" stroke="#0a0ac8" stroke-width="1.2" fill="none"/><path d="M510 69V76M508.1 69H511.9M508.1 76H511.9M521.54 70.5V77.5M519.64 70.5H523.44M519.64 77.5H523.44M533.09 65.4V72.4M531.19 65.4H534.99M531.19 72.4H534.99M544.63 64.3V71.3M542.73 64.3H546.53M542.73 71.3H546.53M556.18 64.3V71.3M554.28 64.3H558.08M554.28 71.3H558.08M567.72 62V69M565.82 62H569.62M565.82 69H569.62M579.26 62.5V69.5M577.36 62.5H581.16M577.36 69.5H581.16M590.81 67.5V74.5M588.91 67.5H592.71M588.91 74.5H592.71M602.35 64.1V71.1M600.45 64.1H604.25M600.45 71.1H604.25M613.9 63.3V70.3M612 63.3H615.8M612 70.3H615.8M625.44 63.3V70.3M623.54 63.3H627.34M623.54 70.3H627.34M636.98 68.3V75.3M635.08 68.3H638.88M635.08 75.3H638.88M648.53 65.3V72.3M646.63 65.3H650.43M646.63 72.3H650.43M660.07 66.3V73.3M658.17 66.3H661.97M658.17 73.3H661.97M671.62 68V75M669.72 68H673.52M669.72 75H673.52" stroke="#0a0ac8" stroke-width="1.1" fill="none"/><circle cx="510" cy="72.5" r="2.45" fill="#0a0ac8"/><circle cx="521.54" cy="74" r="2.45" fill="#0a0ac8"/><circle cx="533.09" cy="68.9" r="2.45" fill="#0a0ac8"/><circle cx="544.63" cy="67.8" r="2.45" fill="#0a0ac8"/><circle cx="556.18" cy="67.8" r="2.45" fill="#0a0ac8"/><circle cx="567.72" cy="65.5" r="2.45" fill="#0a0ac8"/><circle cx="579.26" cy="66" r="2.45" fill="#0a0ac8"/><circle cx="590.81" cy="71" r="2.45" fill="#0a0ac8"/><circle cx="602.35" cy="67.6" r="2.45" fill="#0a0ac8"/><circle cx="613.9" cy="66.8" r="2.45" fill="#0a0ac8"/><circle cx="625.44" cy="66.8" r="2.45" fill="#0a0ac8"/><circle cx="636.98" cy="71.8" r="2.45" fill="#0a0ac8"/><circle cx="648.53" cy="68.8" r="2.45" fill="#0a0ac8"/><circle cx="660.07" cy="69.8" r="2.45" fill="#0a0ac8"/><circle cx="671.62" cy="71.5" r="2.45" fill="#0a0ac8"/>
<polyline points="510,70.5 521.54,72.5 533.09,76.6 544.63,82.5 556.18,84.9 567.72,79.8 579.26,82.7 590.81,76.9 602.35,76 613.9,76 625.44,76 636.98,74.3 648.53,73.5 660.07,73.5 671.62,72.7" stroke="#ff1010" stroke-width="1.2" fill="none"/><path d="M510 65V76M508.1 65H511.9M508.1 76H511.9M521.54 68.5V76.5M519.64 68.5H523.44M519.64 76.5H523.44M533.09 71.6V81.6M531.19 71.6H534.99M531.19 81.6H534.99M544.63 76.5V88.5M542.73 76.5H546.53M542.73 88.5H546.53M556.18 79.9V89.9M554.28 79.9H558.08M554.28 89.9H558.08M567.72 74.3V85.3M565.82 74.3H569.62M565.82 85.3H569.62M579.26 76.1V89.3M577.36 76.1H581.16M577.36 89.3H581.16M590.81 72.9V80.9M588.91 72.9H592.71M588.91 80.9H592.71M602.35 72.5V79.5M600.45 72.5H604.25M600.45 79.5H604.25M613.9 72.5V79.5M612 72.5H615.8M612 79.5H615.8M625.44 72.5V79.5M623.54 72.5H627.34M623.54 79.5H627.34M636.98 70.8V77.8M635.08 70.8H638.88M635.08 77.8H638.88M648.53 70.5V76.5M646.63 70.5H650.43M646.63 76.5H650.43M660.07 70.5V76.5M658.17 70.5H661.97M658.17 76.5H661.97M671.62 69.7V75.7M669.72 69.7H673.52M669.72 75.7H673.52" stroke="#ff1010" stroke-width="1.1" fill="none"/><path d="M510 73.2L512.7 68.47L507.3 68.47Z" fill="#ff1010"/><path d="M521.54 75.2L524.24 70.47L518.84 70.47Z" fill="#ff1010"/><path d="M533.09 79.3L535.79 74.57L530.39 74.57Z" fill="#ff1010"/><path d="M544.63 85.2L547.33 80.47L541.93 80.47Z" fill="#ff1010"/><path d="M556.18 87.6L558.88 82.88L553.48 82.88Z" fill="#ff1010"/><path d="M567.72 82.5L570.42 77.77L565.02 77.77Z" fill="#ff1010"/><path d="M579.26 85.4L581.96 80.67L576.56 80.67Z" fill="#ff1010"/><path d="M590.81 79.6L593.51 74.88L588.11 74.88Z" fill="#ff1010"/><path d="M602.35 78.7L605.05 73.97L599.65 73.97Z" fill="#ff1010"/><path d="M613.9 78.7L616.6 73.97L611.2 73.97Z" fill="#ff1010"/><path d="M625.44 78.7L628.14 73.97L622.74 73.97Z" fill="#ff1010"/><path d="M636.98 77L639.68 72.27L634.28 72.27Z" fill="#ff1010"/><path d="M648.53 76.2L651.23 71.47L645.83 71.47Z" fill="#ff1010"/><path d="M660.07 76.2L662.77 71.47L657.37 71.47Z" fill="#ff1010"/><path d="M671.62 75.4L674.32 70.67L668.92 70.67Z" fill="#ff1010"/>
<path d="M533.09 85.7L533.09 83M533.09 85.7L535.66 84.87M533.09 85.7L534.68 87.88M533.09 85.7L531.5 87.88M533.09 85.7L530.52 84.87" stroke="#ff1010" stroke-width="1.15" fill="none"/>
<path d="M556.18 94.4L556.18 91.7M556.18 94.4L558.74 93.57M556.18 94.4L557.76 96.58M556.18 94.4L554.59 96.58M556.18 94.4L553.61 93.57" stroke="#ff1010" stroke-width="1.15" fill="none"/>
<text x="34.8" y="201.5" font-size="15.5" text-anchor="start" font-weight="bold">d</text>
<text x="155.5" y="203.9" font-size="9" text-anchor="middle" >Cytosol-SoNar</text>
<rect x="136.29" y="209.7" width="104.21" height="11.4" fill="#000"/>
<path d="M67.4 336.6V209.7H240.5V336.6H67.4M67.4 221.1H240.5" stroke="#000" stroke-width="1.3" fill="none"/>
<path d="M62.4 221.1H67.4" stroke="#000" stroke-width="1.2"/>
<text x="59.9" y="223.7" font-size="7.5" text-anchor="end" fill="#000" stroke="#000" stroke-width="0.07">1.2</text>
<path d="M62.4 250H67.4" stroke="#000" stroke-width="1.2"/>
<text x="59.9" y="252.6" font-size="7.5" text-anchor="end" fill="#000" stroke="#000" stroke-width="0.07">1.0</text>
<path d="M62.4 278.9H67.4" stroke="#000" stroke-width="1.2"/>
<text x="59.9" y="281.5" font-size="7.5" text-anchor="end" fill="#000" stroke="#000" stroke-width="0.07">0.8</text>
<path d="M62.4 307.8H67.4" stroke="#000" stroke-width="1.2"/>
<text x="59.9" y="310.4" font-size="7.5" text-anchor="end" fill="#000" stroke="#000" stroke-width="0.07">0.6</text>
<path d="M62.4 336.6H67.4" stroke="#000" stroke-width="1.2"/>
<text x="59.9" y="339.2" font-size="7.5" text-anchor="end" fill="#000" stroke="#000" stroke-width="0.07">0.4</text>
<path d="M67.4 336.6V341.6" stroke="#000" stroke-width="1.2"/>
<text x="67.4" y="350.1" font-size="7.5" text-anchor="middle" fill="#000" stroke="#000" stroke-width="0.07">0</text>
<path d="M105.67 336.6V341.6" stroke="#000" stroke-width="1.2"/>
<text x="105.67" y="350.1" font-size="7.5" text-anchor="middle" fill="#000" stroke="#000" stroke-width="0.07">100</text>
<path d="M143.94 336.6V341.6" stroke="#000" stroke-width="1.2"/>
<text x="143.94" y="350.1" font-size="7.5" text-anchor="middle" fill="#000" stroke="#000" stroke-width="0.07">200</text>
<path d="M182.21 336.6V341.6" stroke="#000" stroke-width="1.2"/>
<text x="182.21" y="350.1" font-size="7.5" text-anchor="middle" fill="#000" stroke="#000" stroke-width="0.07">300</text>
<path d="M220.48 336.6V341.6" stroke="#000" stroke-width="1.2"/>
<text x="220.48" y="350.1" font-size="7.5" text-anchor="middle" fill="#000" stroke="#000" stroke-width="0.07">400</text>
<text x="157.9" y="362.4" font-size="7.5" text-anchor="middle" fill="#000" stroke="#000" stroke-width="0.07">Time (s)</text>
<path d="M136.29 222.1V336.6" stroke="#000" stroke-width="1.15" stroke-dasharray="3.5 2 1 2.8 1 2.2"/>
<text transform="translate(41.5,238.1) rotate(-90)" font-size="8.1" text-anchor="end" fill="#000" stroke="#000" stroke-width="0.06">Normalized <tspan font-style="italic">R</tspan><tspan font-size="5.2" dy="2.4">405/488</tspan></text>
<path d="M74 228.6H86.5" stroke="#000" stroke-width="1.2"/>
<rect x="78.1" y="226.45" width="4.3" height="4.3" fill="#000"/>
<text x="89.8" y="231.4" font-size="6.7" text-anchor="start" fill="#000" stroke="#000" stroke-width="0.07">DARK</text>
<path d="M74 237H86.5" stroke="#ff8a1e" stroke-width="1.2"/>
<path d="M80.25 234.3L82.95 237L80.25 239.7L77.55 237Z" fill="#ff8a1e"/>
<text x="89.8" y="239.8" font-size="6.7" text-anchor="start" fill="#000" stroke="#000" stroke-width="0.07">DCMU</text>
<path d="M74 245.4H86.5" stroke="#18c018" stroke-width="1.2"/>
<path d="M80.25 242.7L82.95 247.43L77.55 247.43Z" fill="#18c018"/>
<text x="89.8" y="248.2" font-size="6.7" text-anchor="start" fill="#000" stroke="#000" stroke-width="0.07">ROOT</text>
<path d="M155.7 228.8H168.2" stroke="#0a0ac8" stroke-width="1.2"/>
<circle cx="161.95" cy="228.8" r="2.45" fill="#0a0ac8"/>
<text x="171.5" y="231.5" font-size="6.8" fill="#000" stroke="#000" stroke-width="0.07">40 µmol m<tspan font-size="4.8" dy="-2.5">−2</tspan><tspan dy="2.5"> s</tspan><tspan font-size="4.8" dy="-2.5">−1</tspan></text>
<path d="M155.7 237.2H168.2" stroke="#ff1010" stroke-width="1.2"/>
<path d="M161.95 239.9L164.65 235.18L159.25 235.18Z" fill="#ff1010"/>
<text x="171.5" y="239.9" font-size="6.8" fill="#000" stroke="#000" stroke-width="0.07">296 µmol m<tspan font-size="4.8" dy="-2.5">−2</tspan><tspan dy="2.5"> s</tspan><tspan font-size="4.8" dy="-2.5">−1</tspan></text>
<polyline points="67.4,282.8 78.88,281.7 90.36,281.7 101.84,283.5 113.32,285 124.81,284.6 136.29,285 147.77,285.7 159.25,286.2 170.73,287.3 182.21,287.3 193.69,286.2 205.17,286.8 216.65,286.2 228.13,285.7" stroke="#000" stroke-width="1.2" fill="none"/><path d="M67.4 280.8V284.8M65.5 280.8H69.3M65.5 284.8H69.3M78.88 279.7V283.7M76.98 279.7H80.78M76.98 283.7H80.78M90.36 279.7V283.7M88.46 279.7H92.26M88.46 283.7H92.26M101.84 281.5V285.5M99.94 281.5H103.74M99.94 285.5H103.74M113.32 283V287M111.42 283H115.22M111.42 287H115.22M124.81 282.6V286.6M122.91 282.6H126.71M122.91 286.6H126.71M136.29 283V287M134.39 283H138.19M134.39 287H138.19M147.77 283.7V287.7M145.87 283.7H149.67M145.87 287.7H149.67M159.25 284.2V288.2M157.35 284.2H161.15M157.35 288.2H161.15M170.73 285.3V289.3M168.83 285.3H172.63M168.83 289.3H172.63M182.21 285.3V289.3M180.31 285.3H184.11M180.31 289.3H184.11M193.69 284.2V288.2M191.79 284.2H195.59M191.79 288.2H195.59M205.17 284.8V288.8M203.27 284.8H207.07M203.27 288.8H207.07M216.65 284.2V288.2M214.75 284.2H218.55M214.75 288.2H218.55M228.13 283.7V287.7M226.23 283.7H230.03M226.23 287.7H230.03" stroke="#000" stroke-width="1.1" fill="none"/><rect x="65.25" y="280.65" width="4.3" height="4.3" fill="#000"/><rect x="76.73" y="279.55" width="4.3" height="4.3" fill="#000"/><rect x="88.21" y="279.55" width="4.3" height="4.3" fill="#000"/><rect x="99.69" y="281.35" width="4.3" height="4.3" fill="#000"/><rect x="111.17" y="282.85" width="4.3" height="4.3" fill="#000"/><rect x="122.66" y="282.45" width="4.3" height="4.3" fill="#000"/><rect x="134.14" y="282.85" width="4.3" height="4.3" fill="#000"/><rect x="145.62" y="283.55" width="4.3" height="4.3" fill="#000"/><rect x="157.1" y="284.05" width="4.3" height="4.3" fill="#000"/><rect x="168.58" y="285.15" width="4.3" height="4.3" fill="#000"/><rect x="180.06" y="285.15" width="4.3" height="4.3" fill="#000"/><rect x="191.54" y="284.05" width="4.3" height="4.3" fill="#000"/><rect x="203.02" y="284.65" width="4.3" height="4.3" fill="#000"/><rect x="214.5" y="284.05" width="4.3" height="4.3" fill="#000"/><rect x="225.98" y="283.55" width="4.3" height="4.3" fill="#000"/>
<polyline points="67.4,277.3 78.88,278.4 90.36,279 101.84,279.5 113.32,280.2 124.81,280.6 136.29,282 147.77,279.6 159.25,281.8 170.73,282.9 182.21,282.9 193.69,281.3 205.17,280.7 216.65,281.8 228.13,281.3" stroke="#ff8a1e" stroke-width="1.2" fill="none"/><path d="M67.4 273.8V280.8M65.5 273.8H69.3M65.5 280.8H69.3M78.88 274.9V281.9M76.98 274.9H80.78M76.98 281.9H80.78M90.36 275.5V282.5M88.46 275.5H92.26M88.46 282.5H92.26M101.84 276V283M99.94 276H103.74M99.94 283H103.74M113.32 276.7V283.7M111.42 276.7H115.22M111.42 283.7H115.22M124.81 277.1V284.1M122.91 277.1H126.71M122.91 284.1H126.71M136.29 278.5V285.5M134.39 278.5H138.19M134.39 285.5H138.19M147.77 276.1V283.1M145.87 276.1H149.67M145.87 283.1H149.67M159.25 278.3V285.3M157.35 278.3H161.15M157.35 285.3H161.15M170.73 279.4V286.4M168.83 279.4H172.63M168.83 286.4H172.63M182.21 279.4V286.4M180.31 279.4H184.11M180.31 286.4H184.11M193.69 277.8V284.8M191.79 277.8H195.59M191.79 284.8H195.59M205.17 277.2V284.2M203.27 277.2H207.07M203.27 284.2H207.07M216.65 278.3V285.3M214.75 278.3H218.55M214.75 285.3H218.55M228.13 277.8V284.8M226.23 277.8H230.03M226.23 284.8H230.03" stroke="#ff8a1e" stroke-width="1.1" fill="none"/><path d="M67.4 274.6L70.1 277.3L67.4 280L64.7 277.3Z" fill="#ff8a1e"/><path d="M78.88 275.7L81.58 278.4L78.88 281.1L76.18 278.4Z" fill="#ff8a1e"/><path d="M90.36 276.3L93.06 279L90.36 281.7L87.66 279Z" fill="#ff8a1e"/><path d="M101.84 276.8L104.54 279.5L101.84 282.2L99.14 279.5Z" fill="#ff8a1e"/><path d="M113.32 277.5L116.02 280.2L113.32 282.9L110.62 280.2Z" fill="#ff8a1e"/><path d="M124.81 277.9L127.51 280.6L124.81 283.3L122.11 280.6Z" fill="#ff8a1e"/><path d="M136.29 279.3L138.99 282L136.29 284.7L133.59 282Z" fill="#ff8a1e"/><path d="M147.77 276.9L150.47 279.6L147.77 282.3L145.07 279.6Z" fill="#ff8a1e"/><path d="M159.25 279.1L161.95 281.8L159.25 284.5L156.55 281.8Z" fill="#ff8a1e"/><path d="M170.73 280.2L173.43 282.9L170.73 285.6L168.03 282.9Z" fill="#ff8a1e"/><path d="M182.21 280.2L184.91 282.9L182.21 285.6L179.51 282.9Z" fill="#ff8a1e"/><path d="M193.69 278.6L196.39 281.3L193.69 284L190.99 281.3Z" fill="#ff8a1e"/><path d="M205.17 278L207.87 280.7L205.17 283.4L202.47 280.7Z" fill="#ff8a1e"/><path d="M216.65 279.1L219.35 281.8L216.65 284.5L213.95 281.8Z" fill="#ff8a1e"/><path d="M228.13 278.6L230.83 281.3L228.13 284L225.43 281.3Z" fill="#ff8a1e"/>
<polyline points="67.4,261.3 78.88,261.3 90.36,260.9 101.84,261.3 113.32,261.5 124.81,261.5 136.29,262 147.77,262 159.25,261.5 170.73,262 182.21,261.5 193.69,262.6 205.17,262 216.65,262 228.13,261.3" stroke="#18c018" stroke-width="1.2" fill="none"/><path d="M67.4 256.3V266.3M65.5 256.3H69.3M65.5 266.3H69.3M78.88 256.3V266.3M76.98 256.3H80.78M76.98 266.3H80.78M90.36 255.9V265.9M88.46 255.9H92.26M88.46 265.9H92.26M101.84 256.3V266.3M99.94 256.3H103.74M99.94 266.3H103.74M113.32 256.5V266.5M111.42 256.5H115.22M111.42 266.5H115.22M124.81 256.5V266.5M122.91 256.5H126.71M122.91 266.5H126.71M136.29 257V267M134.39 257H138.19M134.39 267H138.19M147.77 257V267M145.87 257H149.67M145.87 267H149.67M159.25 256.5V266.5M157.35 256.5H161.15M157.35 266.5H161.15M170.73 257V267M168.83 257H172.63M168.83 267H172.63M182.21 256.5V266.5M180.31 256.5H184.11M180.31 266.5H184.11M193.69 257.6V267.6M191.79 257.6H195.59M191.79 267.6H195.59M205.17 257V267M203.27 257H207.07M203.27 267H207.07M216.65 257V267M214.75 257H218.55M214.75 267H218.55M228.13 256.3V266.3M226.23 256.3H230.03M226.23 266.3H230.03" stroke="#18c018" stroke-width="1.1" fill="none"/><path d="M67.4 258.6L70.1 263.32L64.7 263.32Z" fill="#18c018"/><path d="M78.88 258.6L81.58 263.32L76.18 263.32Z" fill="#18c018"/><path d="M90.36 258.2L93.06 262.92L87.66 262.92Z" fill="#18c018"/><path d="M101.84 258.6L104.54 263.32L99.14 263.32Z" fill="#18c018"/><path d="M113.32 258.8L116.02 263.52L110.62 263.52Z" fill="#18c018"/><path d="M124.81 258.8L127.51 263.52L122.11 263.52Z" fill="#18c018"/><path d="M136.29 259.3L138.99 264.02L133.59 264.02Z" fill="#18c018"/><path d="M147.77 259.3L150.47 264.02L145.07 264.02Z" fill="#18c018"/><path d="M159.25 258.8L161.95 263.52L156.55 263.52Z" fill="#18c018"/><path d="M170.73 259.3L173.43 264.02L168.03 264.02Z" fill="#18c018"/><path d="M182.21 258.8L184.91 263.52L179.51 263.52Z" fill="#18c018"/><path d="M193.69 259.9L196.39 264.62L190.99 264.62Z" fill="#18c018"/><path d="M205.17 259.3L207.87 264.02L202.47 264.02Z" fill="#18c018"/><path d="M216.65 259.3L219.35 264.02L213.95 264.02Z" fill="#18c018"/><path d="M228.13 258.6L230.83 263.32L225.43 263.32Z" fill="#18c018"/>
<polyline points="67.4,282.8 78.88,280.6 90.36,294.4 101.84,305.8 113.32,303.7 124.81,305.4 136.29,309.8 147.77,309.9 159.25,305.9 170.73,303.3 182.21,302.6 193.69,307.7 205.17,310.8 216.65,314.3 228.13,314.7" stroke="#0a0ac8" stroke-width="1.2" fill="none"/><path d="M67.4 276.8V288.8M65.5 276.8H69.3M65.5 288.8H69.3M78.88 270.6V290.6M76.98 270.6H80.78M76.98 290.6H80.78M90.36 284.4V304.4M88.46 284.4H92.26M88.46 304.4H92.26M101.84 295.8V315.8M99.94 295.8H103.74M99.94 315.8H103.74M113.32 297.7V309.7M111.42 297.7H115.22M111.42 309.7H115.22M124.81 300.4V310.4M122.91 300.4H126.71M122.91 310.4H126.71M136.29 304.8V314.8M134.39 304.8H138.19M134.39 314.8H138.19M147.77 304.9V314.9M145.87 304.9H149.67M145.87 314.9H149.67M159.25 300.9V310.9M157.35 300.9H161.15M157.35 310.9H161.15M170.73 298.3V308.3M168.83 298.3H172.63M168.83 308.3H172.63M182.21 297.6V307.6M180.31 297.6H184.11M180.31 307.6H184.11M193.69 302.7V312.7M191.79 302.7H195.59M191.79 312.7H195.59M205.17 306.8V314.8M203.27 306.8H207.07M203.27 314.8H207.07M216.65 311.3V317.3M214.75 311.3H218.55M214.75 317.3H218.55M228.13 311.7V317.7M226.23 311.7H230.03M226.23 317.7H230.03" stroke="#0a0ac8" stroke-width="1.1" fill="none"/><circle cx="67.4" cy="282.8" r="2.45" fill="#0a0ac8"/><circle cx="78.88" cy="280.6" r="2.45" fill="#0a0ac8"/><circle cx="90.36" cy="294.4" r="2.45" fill="#0a0ac8"/><circle cx="101.84" cy="305.8" r="2.45" fill="#0a0ac8"/><circle cx="113.32" cy="303.7" r="2.45" fill="#0a0ac8"/><circle cx="124.81" cy="305.4" r="2.45" fill="#0a0ac8"/><circle cx="136.29" cy="309.8" r="2.45" fill="#0a0ac8"/><circle cx="147.77" cy="309.9" r="2.45" fill="#0a0ac8"/><circle cx="159.25" cy="305.9" r="2.45" fill="#0a0ac8"/><circle cx="170.73" cy="303.3" r="2.45" fill="#0a0ac8"/><circle cx="182.21" cy="302.6" r="2.45" fill="#0a0ac8"/><circle cx="193.69" cy="307.7" r="2.45" fill="#0a0ac8"/><circle cx="205.17" cy="310.8" r="2.45" fill="#0a0ac8"/><circle cx="216.65" cy="314.3" r="2.45" fill="#0a0ac8"/><circle cx="228.13" cy="314.7" r="2.45" fill="#0a0ac8"/>
<polyline points="67.4,281.7 78.88,281.3 90.36,283.9 101.84,282.8 113.32,277.8 124.81,271.4 136.29,270 147.77,274 159.25,275.2 170.73,278.5 182.21,282.9 193.69,286.2 205.17,288.4 216.65,291 228.13,292.7" stroke="#ff1010" stroke-width="1.2" fill="none"/><path d="M67.4 277.7V285.7M65.5 277.7H69.3M65.5 285.7H69.3M78.88 277.3V285.3M76.98 277.3H80.78M76.98 285.3H80.78M90.36 277.9V289.9M88.46 277.9H92.26M88.46 289.9H92.26M101.84 277.8V287.8M99.94 277.8H103.74M99.94 287.8H103.74M113.32 272.8V282.8M111.42 272.8H115.22M111.42 282.8H115.22M124.81 265.4V277.4M122.91 265.4H126.71M122.91 277.4H126.71M136.29 264V276M134.39 264H138.19M134.39 276H138.19M147.77 268V280M145.87 268H149.67M145.87 280H149.67M159.25 269.2V281.2M157.35 269.2H161.15M157.35 281.2H161.15M170.73 272.5V284.5M168.83 272.5H172.63M168.83 284.5H172.63M182.21 275.9V289.9M180.31 275.9H184.11M180.31 289.9H184.11M193.69 278.2V294.2M191.79 278.2H195.59M191.79 294.2H195.59M205.17 279.4V297.4M203.27 279.4H207.07M203.27 297.4H207.07M216.65 282V300M214.75 282H218.55M214.75 300H218.55M228.13 283.7V301.7M226.23 283.7H230.03M226.23 301.7H230.03" stroke="#ff1010" stroke-width="1.1" fill="none"/><path d="M67.4 284.4L70.1 279.68L64.7 279.68Z" fill="#ff1010"/><path d="M78.88 284L81.58 279.28L76.18 279.28Z" fill="#ff1010"/><path d="M90.36 286.6L93.06 281.88L87.66 281.88Z" fill="#ff1010"/><path d="M101.84 285.5L104.54 280.78L99.14 280.78Z" fill="#ff1010"/><path d="M113.32 280.5L116.02 275.78L110.62 275.78Z" fill="#ff1010"/><path d="M124.81 274.1L127.51 269.38L122.11 269.38Z" fill="#ff1010"/><path d="M136.29 272.7L138.99 267.98L133.59 267.98Z" fill="#ff1010"/><path d="M147.77 276.7L150.47 271.98L145.07 271.98Z" fill="#ff1010"/><path d="M159.25 277.9L161.95 273.18L156.55 273.18Z" fill="#ff1010"/><path d="M170.73 281.2L173.43 276.48L168.03 276.48Z" fill="#ff1010"/><path d="M182.21 285.6L184.91 280.88L179.51 280.88Z" fill="#ff1010"/><path d="M193.69 288.9L196.39 284.18L190.99 284.18Z" fill="#ff1010"/><path d="M205.17 291.1L207.87 286.38L202.47 286.38Z" fill="#ff1010"/><path d="M216.65 293.7L219.35 288.98L213.95 288.98Z" fill="#ff1010"/><path d="M228.13 295.4L230.83 290.68L225.43 290.68Z" fill="#ff1010"/>
<path d="M113.32 270.3L113.32 267.6M113.32 270.3L115.89 269.47M113.32 270.3L114.91 272.48M113.32 270.3L111.74 272.48M113.32 270.3L110.76 269.47" stroke="#ff1010" stroke-width="1.15" fill="none"/>
<path d="M124.81 267.4L124.81 264.7M124.81 267.4L127.37 266.57M124.81 267.4L126.39 269.58M124.81 267.4L123.22 269.58M124.81 267.4L122.24 266.57" stroke="#ff1010" stroke-width="1.15" fill="none"/>
<path d="M136.29 264.6L136.29 261.9M136.29 264.6L138.85 263.77M136.29 264.6L137.87 266.78M136.29 264.6L134.7 266.78M136.29 264.6L133.72 263.77" stroke="#ff1010" stroke-width="1.15" fill="none"/>
<path d="M113.32 292.7L113.32 290M113.32 292.7L115.89 291.87M113.32 292.7L114.91 294.88M113.32 292.7L111.74 294.88M113.32 292.7L110.76 291.87" stroke="#0a0ac8" stroke-width="1.15" fill="none"/>
<path d="M124.81 297L124.81 294.3M124.81 297L127.37 296.17M124.81 297L126.39 299.18M124.81 297L123.22 299.18M124.81 297L122.24 296.17" stroke="#0a0ac8" stroke-width="1.15" fill="none"/>
<path d="M136.29 301.9L136.29 299.2M136.29 301.9L138.85 301.07M136.29 301.9L137.87 304.08M136.29 301.9L134.7 304.08M136.29 301.9L133.72 301.07" stroke="#0a0ac8" stroke-width="1.15" fill="none"/>
<text x="258.5" y="201.5" font-size="15.5" text-anchor="start" font-weight="bold">e</text>
<text x="378.1" y="204.9" font-size="9" text-anchor="middle" >TKTP-SoNar</text>
<rect x="359.49" y="209.5" width="104.11" height="11.6" fill="#000"/>
<path d="M290.6 336.6V209.5H463.6V336.6H290.6M290.6 221.1H463.6" stroke="#000" stroke-width="1.3" fill="none"/>
<path d="M285.6 221.1H290.6" stroke="#000" stroke-width="1.2"/>
<text x="283.1" y="223.7" font-size="7.5" text-anchor="end" fill="#000" stroke="#000" stroke-width="0.07">2.0</text>
<path d="M285.6 237.6H290.6" stroke="#000" stroke-width="1.2"/>
<text x="283.1" y="240.2" font-size="7.5" text-anchor="end" fill="#000" stroke="#000" stroke-width="0.07">1.8</text>
<path d="M285.6 254.1H290.6" stroke="#000" stroke-width="1.2"/>
<text x="283.1" y="256.7" font-size="7.5" text-anchor="end" fill="#000" stroke="#000" stroke-width="0.07">1.6</text>
<path d="M285.6 270.6H290.6" stroke="#000" stroke-width="1.2"/>
<text x="283.1" y="273.2" font-size="7.5" text-anchor="end" fill="#000" stroke="#000" stroke-width="0.07">1.4</text>
<path d="M285.6 287.1H290.6" stroke="#000" stroke-width="1.2"/>
<text x="283.1" y="289.7" font-size="7.5" text-anchor="end" fill="#000" stroke="#000" stroke-width="0.07">1.2</text>
<path d="M285.6 303.6H290.6" stroke="#000" stroke-width="1.2"/>
<text x="283.1" y="306.2" font-size="7.5" text-anchor="end" fill="#000" stroke="#000" stroke-width="0.07">1.0</text>
<path d="M285.6 320.1H290.6" stroke="#000" stroke-width="1.2"/>
<text x="283.1" y="322.7" font-size="7.5" text-anchor="end" fill="#000" stroke="#000" stroke-width="0.07">0.8</text>
<path d="M285.6 336.6H290.6" stroke="#000" stroke-width="1.2"/>
<text x="283.1" y="339.2" font-size="7.5" text-anchor="end" fill="#000" stroke="#000" stroke-width="0.07">0.6</text>
<path d="M290.6 336.6V341.6" stroke="#000" stroke-width="1.2"/>
<text x="290.6" y="350.1" font-size="7.5" text-anchor="middle" fill="#000" stroke="#000" stroke-width="0.07">0</text>
<path d="M328.87 336.6V341.6" stroke="#000" stroke-width="1.2"/>
<text x="328.87" y="350.1" font-size="7.5" text-anchor="middle" fill="#000" stroke="#000" stroke-width="0.07">100</text>
<path d="M367.14 336.6V341.6" stroke="#000" stroke-width="1.2"/>
<text x="367.14" y="350.1" font-size="7.5" text-anchor="middle" fill="#000" stroke="#000" stroke-width="0.07">200</text>
<path d="M405.41 336.6V341.6" stroke="#000" stroke-width="1.2"/>
<text x="405.41" y="350.1" font-size="7.5" text-anchor="middle" fill="#000" stroke="#000" stroke-width="0.07">300</text>
<path d="M443.68 336.6V341.6" stroke="#000" stroke-width="1.2"/>
<text x="443.68" y="350.1" font-size="7.5" text-anchor="middle" fill="#000" stroke="#000" stroke-width="0.07">400</text>
<text x="381.4" y="362.4" font-size="7.5" text-anchor="middle" fill="#000" stroke="#000" stroke-width="0.07">Time (s)</text>
<path d="M359.49 222.1V336.6" stroke="#000" stroke-width="1.15" stroke-dasharray="3.5 2 1 2.8 1 2.2"/>
<text transform="translate(265.3,238.4) rotate(-90)" font-size="8.1" text-anchor="end" fill="#000" stroke="#000" stroke-width="0.06">Normalized <tspan font-style="italic">R</tspan><tspan font-size="5.2" dy="2.4">405/488</tspan></text>
<path d="M293 226.7H305.5" stroke="#000" stroke-width="1.2"/>
<rect x="297.1" y="224.55" width="4.3" height="4.3" fill="#000"/>
<text x="308.8" y="229.5" font-size="6.7" text-anchor="start" fill="#000" stroke="#000" stroke-width="0.07">DARK</text>
<path d="M293 234.5H305.5" stroke="#ff8a1e" stroke-width="1.2"/>
<path d="M299.25 231.8L301.95 234.5L299.25 237.2L296.55 234.5Z" fill="#ff8a1e"/>
<text x="308.8" y="237.3" font-size="6.7" text-anchor="start" fill="#000" stroke="#000" stroke-width="0.07">DCMU</text>
<path d="M293 242.3H305.5" stroke="#18c018" stroke-width="1.2"/>
<path d="M299.25 239.6L301.95 244.32L296.55 244.32Z" fill="#18c018"/>
<text x="308.8" y="245.1" font-size="6.7" text-anchor="start" fill="#000" stroke="#000" stroke-width="0.07">ROOT</text>
<path d="M375.8 229H388.3" stroke="#0a0ac8" stroke-width="1.2"/>
<circle cx="382.05" cy="229" r="2.45" fill="#0a0ac8"/>
<text x="391.6" y="231.7" font-size="6.8" fill="#000" stroke="#000" stroke-width="0.07">40 µmol m<tspan font-size="4.8" dy="-2.5">−2</tspan><tspan dy="2.5"> s</tspan><tspan font-size="4.8" dy="-2.5">−1</tspan></text>
<path d="M375.8 237.1H388.3" stroke="#ff1010" stroke-width="1.2"/>
<path d="M382.05 239.8L384.75 235.07L379.35 235.07Z" fill="#ff1010"/>
<text x="391.6" y="239.8" font-size="6.8" fill="#000" stroke="#000" stroke-width="0.07">296 µmol m<tspan font-size="4.8" dy="-2.5">−2</tspan><tspan dy="2.5"> s</tspan><tspan font-size="4.8" dy="-2.5">−1</tspan></text>
<polyline points="290.6,308.6 302.08,282.4 313.56,289.3 325.04,286.4 336.52,274 348,265.9 359.49,265.9 370.97,289.8 382.45,295.5 393.93,300.5 405.41,304.2 416.89,308.6 428.37,314 439.85,317.8 451.33,319" stroke="#0a0ac8" stroke-width="1.2" fill="none"/><path d="M290.6 303.6V313.6M288.7 303.6H292.5M288.7 313.6H292.5M302.08 274.4V290.4M300.18 274.4H303.98M300.18 290.4H303.98M313.56 283.3V295.3M311.66 283.3H315.46M311.66 295.3H315.46M325.04 280.4V292.4M323.14 280.4H326.94M323.14 292.4H326.94M336.52 263V285M334.62 263H338.42M334.62 285H338.42M348 255.9V275.9M346.11 255.9H349.9M346.11 275.9H349.9M359.49 255.9V275.9M357.59 255.9H361.39M357.59 275.9H361.39M370.97 283.8V295.8M369.07 283.8H372.87M369.07 295.8H372.87M382.45 290.5V300.5M380.55 290.5H384.35M380.55 300.5H384.35M393.93 295.5V305.5M392.03 295.5H395.83M392.03 305.5H395.83M405.41 299.2V309.2M403.51 299.2H407.31M403.51 309.2H407.31M416.89 302.6V314.6M414.99 302.6H418.79M414.99 314.6H418.79M428.37 308V320M426.47 308H430.27M426.47 320H430.27M439.85 311.8V323.8M437.95 311.8H441.75M437.95 323.8H441.75M451.33 314V324M449.43 314H453.23M449.43 324H453.23" stroke="#0a0ac8" stroke-width="1.1" fill="none"/><circle cx="290.6" cy="308.6" r="2.45" fill="#0a0ac8"/><circle cx="302.08" cy="282.4" r="2.45" fill="#0a0ac8"/><circle cx="313.56" cy="289.3" r="2.45" fill="#0a0ac8"/><circle cx="325.04" cy="286.4" r="2.45" fill="#0a0ac8"/><circle cx="336.52" cy="274" r="2.45" fill="#0a0ac8"/><circle cx="348" cy="265.9" r="2.45" fill="#0a0ac8"/><circle cx="359.49" cy="265.9" r="2.45" fill="#0a0ac8"/><circle cx="370.97" cy="289.8" r="2.45" fill="#0a0ac8"/><circle cx="382.45" cy="295.5" r="2.45" fill="#0a0ac8"/><circle cx="393.93" cy="300.5" r="2.45" fill="#0a0ac8"/><circle cx="405.41" cy="304.2" r="2.45" fill="#0a0ac8"/><circle cx="416.89" cy="308.6" r="2.45" fill="#0a0ac8"/><circle cx="428.37" cy="314" r="2.45" fill="#0a0ac8"/><circle cx="439.85" cy="317.8" r="2.45" fill="#0a0ac8"/><circle cx="451.33" cy="319" r="2.45" fill="#0a0ac8"/>
<polyline points="290.6,308.6 302.08,294.8 313.56,291.8 325.04,263.5 336.52,244.5 348,247 359.49,251.5 370.97,283.2 382.45,288.9 393.93,291.8 405.41,294.8 416.89,301.7 428.37,309.1 439.85,312.8 451.33,316.5" stroke="#ff1010" stroke-width="1.2" fill="none"/><path d="M290.6 305.6V311.6M288.7 305.6H292.5M288.7 311.6H292.5M302.08 291.8V297.8M300.18 291.8H303.98M300.18 297.8H303.98M313.56 288.8V294.8M311.66 288.8H315.46M311.66 294.8H315.46M325.04 260.5V266.5M323.14 260.5H326.94M323.14 266.5H326.94M336.52 241.5V247.5M334.62 241.5H338.42M334.62 247.5H338.42M348 244V250M346.11 244H349.9M346.11 250H349.9M359.49 248.5V254.5M357.59 248.5H361.39M357.59 254.5H361.39M370.97 280.2V286.2M369.07 280.2H372.87M369.07 286.2H372.87M382.45 285.9V291.9M380.55 285.9H384.35M380.55 291.9H384.35M393.93 288.8V294.8M392.03 288.8H395.83M392.03 294.8H395.83M405.41 291.8V297.8M403.51 291.8H407.31M403.51 297.8H407.31M416.89 298.7V304.7M414.99 298.7H418.79M414.99 304.7H418.79M428.37 306.1V312.1M426.47 306.1H430.27M426.47 312.1H430.27M439.85 309.8V315.8M437.95 309.8H441.75M437.95 315.8H441.75M451.33 313.5V319.5M449.43 313.5H453.23M449.43 319.5H453.23" stroke="#ff1010" stroke-width="1.1" fill="none"/><path d="M290.6 311.3L293.3 306.58L287.9 306.58Z" fill="#ff1010"/><path d="M302.08 297.5L304.78 292.78L299.38 292.78Z" fill="#ff1010"/><path d="M313.56 294.5L316.26 289.78L310.86 289.78Z" fill="#ff1010"/><path d="M325.04 266.2L327.74 261.48L322.34 261.48Z" fill="#ff1010"/><path d="M336.52 247.2L339.22 242.47L333.82 242.47Z" fill="#ff1010"/><path d="M348 249.7L350.7 244.97L345.31 244.97Z" fill="#ff1010"/><path d="M359.49 254.2L362.19 249.47L356.79 249.47Z" fill="#ff1010"/><path d="M370.97 285.9L373.67 281.18L368.27 281.18Z" fill="#ff1010"/><path d="M382.45 291.6L385.15 286.88L379.75 286.88Z" fill="#ff1010"/><path d="M393.93 294.5L396.63 289.78L391.23 289.78Z" fill="#ff1010"/><path d="M405.41 297.5L408.11 292.78L402.71 292.78Z" fill="#ff1010"/><path d="M416.89 304.4L419.59 299.68L414.19 299.68Z" fill="#ff1010"/><path d="M428.37 311.8L431.07 307.08L425.67 307.08Z" fill="#ff1010"/><path d="M439.85 315.5L442.55 310.78L437.15 310.78Z" fill="#ff1010"/><path d="M451.33 319.2L454.03 314.48L448.63 314.48Z" fill="#ff1010"/>
<polyline points="290.6,315.3 302.08,314.6 313.56,316.5 325.04,316 336.52,313.6 348,310.4 359.49,307.1 370.97,304.2 382.45,296.8 393.93,294.3 405.41,293.8 416.89,293.1 428.37,293.1 439.85,293.1 451.33,293.1" stroke="#ff8a1e" stroke-width="1.2" fill="none"/><path d="M290.6 311.8V318.8M288.7 311.8H292.5M288.7 318.8H292.5M302.08 311.1V318.1M300.18 311.1H303.98M300.18 318.1H303.98M313.56 313V320M311.66 313H315.46M311.66 320H315.46M325.04 312.5V319.5M323.14 312.5H326.94M323.14 319.5H326.94M336.52 310.1V317.1M334.62 310.1H338.42M334.62 317.1H338.42M348 306.9V313.9M346.11 306.9H349.9M346.11 313.9H349.9M359.49 303.6V310.6M357.59 303.6H361.39M357.59 310.6H361.39M370.97 300.7V307.7M369.07 300.7H372.87M369.07 307.7H372.87M382.45 293.3V300.3M380.55 293.3H384.35M380.55 300.3H384.35M393.93 290.8V297.8M392.03 290.8H395.83M392.03 297.8H395.83M405.41 290.3V297.3M403.51 290.3H407.31M403.51 297.3H407.31M416.89 289.6V296.6M414.99 289.6H418.79M414.99 296.6H418.79M428.37 289.6V296.6M426.47 289.6H430.27M426.47 296.6H430.27M439.85 289.6V296.6M437.95 289.6H441.75M437.95 296.6H441.75M451.33 289.6V296.6M449.43 289.6H453.23M449.43 296.6H453.23" stroke="#ff8a1e" stroke-width="1.1" fill="none"/><path d="M290.6 312.6L293.3 315.3L290.6 318L287.9 315.3Z" fill="#ff8a1e"/><path d="M302.08 311.9L304.78 314.6L302.08 317.3L299.38 314.6Z" fill="#ff8a1e"/><path d="M313.56 313.8L316.26 316.5L313.56 319.2L310.86 316.5Z" fill="#ff8a1e"/><path d="M325.04 313.3L327.74 316L325.04 318.7L322.34 316Z" fill="#ff8a1e"/><path d="M336.52 310.9L339.22 313.6L336.52 316.3L333.82 313.6Z" fill="#ff8a1e"/><path d="M348 307.7L350.7 310.4L348 313.1L345.31 310.4Z" fill="#ff8a1e"/><path d="M359.49 304.4L362.19 307.1L359.49 309.8L356.79 307.1Z" fill="#ff8a1e"/><path d="M370.97 301.5L373.67 304.2L370.97 306.9L368.27 304.2Z" fill="#ff8a1e"/><path d="M382.45 294.1L385.15 296.8L382.45 299.5L379.75 296.8Z" fill="#ff8a1e"/><path d="M393.93 291.6L396.63 294.3L393.93 297L391.23 294.3Z" fill="#ff8a1e"/><path d="M405.41 291.1L408.11 293.8L405.41 296.5L402.71 293.8Z" fill="#ff8a1e"/><path d="M416.89 290.4L419.59 293.1L416.89 295.8L414.19 293.1Z" fill="#ff8a1e"/><path d="M428.37 290.4L431.07 293.1L428.37 295.8L425.67 293.1Z" fill="#ff8a1e"/><path d="M439.85 290.4L442.55 293.1L439.85 295.8L437.15 293.1Z" fill="#ff8a1e"/><path d="M451.33 290.4L454.03 293.1L451.33 295.8L448.63 293.1Z" fill="#ff8a1e"/>
<polyline points="290.6,306.2 302.08,303 313.56,303 325.04,303 336.52,303 348,303 359.49,302.2 370.97,301.7 382.45,303.7 393.93,305.4 405.41,307.1 416.89,309.1 428.37,311.6 439.85,314 451.33,315.3" stroke="#000" stroke-width="1.2" fill="none"/><path d="M290.6 302.2V310.2M288.7 302.2H292.5M288.7 310.2H292.5M302.08 299V307M300.18 299H303.98M300.18 307H303.98M313.56 299V307M311.66 299H315.46M311.66 307H315.46M325.04 299V307M323.14 299H326.94M323.14 307H326.94M336.52 299V307M334.62 299H338.42M334.62 307H338.42M348 299V307M346.11 299H349.9M346.11 307H349.9M359.49 298.2V306.2M357.59 298.2H361.39M357.59 306.2H361.39M370.97 297.7V305.7M369.07 297.7H372.87M369.07 305.7H372.87M382.45 299.7V307.7M380.55 299.7H384.35M380.55 307.7H384.35M393.93 301.4V309.4M392.03 301.4H395.83M392.03 309.4H395.83M405.41 303.1V311.1M403.51 303.1H407.31M403.51 311.1H407.31M416.89 305.1V313.1M414.99 305.1H418.79M414.99 313.1H418.79M428.37 307.6V315.6M426.47 307.6H430.27M426.47 315.6H430.27M439.85 310V318M437.95 310H441.75M437.95 318H441.75M451.33 311.3V319.3M449.43 311.3H453.23M449.43 319.3H453.23" stroke="#000" stroke-width="1.1" fill="none"/><rect x="288.45" y="304.05" width="4.3" height="4.3" fill="#000"/><rect x="299.93" y="300.85" width="4.3" height="4.3" fill="#000"/><rect x="311.41" y="300.85" width="4.3" height="4.3" fill="#000"/><rect x="322.89" y="300.85" width="4.3" height="4.3" fill="#000"/><rect x="334.37" y="300.85" width="4.3" height="4.3" fill="#000"/><rect x="345.86" y="300.85" width="4.3" height="4.3" fill="#000"/><rect x="357.34" y="300.05" width="4.3" height="4.3" fill="#000"/><rect x="368.82" y="299.55" width="4.3" height="4.3" fill="#000"/><rect x="380.3" y="301.55" width="4.3" height="4.3" fill="#000"/><rect x="391.78" y="303.25" width="4.3" height="4.3" fill="#000"/><rect x="403.26" y="304.95" width="4.3" height="4.3" fill="#000"/><rect x="414.74" y="306.95" width="4.3" height="4.3" fill="#000"/><rect x="426.22" y="309.45" width="4.3" height="4.3" fill="#000"/><rect x="437.7" y="311.85" width="4.3" height="4.3" fill="#000"/><rect x="449.18" y="313.15" width="4.3" height="4.3" fill="#000"/>
<polyline points="290.6,304.2 302.08,302.2 313.56,302.2 325.04,302.2 336.52,303 348,303 359.49,303 370.97,302.2 382.45,301.7 393.93,302.2 405.41,303 416.89,303.7 428.37,303.7 439.85,303.7 451.33,303.7" stroke="#18c018" stroke-width="1.2" fill="none"/><path d="M290.6 300.2V308.2M288.7 300.2H292.5M288.7 308.2H292.5M302.08 298.2V306.2M300.18 298.2H303.98M300.18 306.2H303.98M313.56 298.2V306.2M311.66 298.2H315.46M311.66 306.2H315.46M325.04 298.2V306.2M323.14 298.2H326.94M323.14 306.2H326.94M336.52 299V307M334.62 299H338.42M334.62 307H338.42M348 299V307M346.11 299H349.9M346.11 307H349.9M359.49 299V307M357.59 299H361.39M357.59 307H361.39M370.97 298.2V306.2M369.07 298.2H372.87M369.07 306.2H372.87M382.45 297.7V305.7M380.55 297.7H384.35M380.55 305.7H384.35M393.93 298.2V306.2M392.03 298.2H395.83M392.03 306.2H395.83M405.41 299V307M403.51 299H407.31M403.51 307H407.31M416.89 299.7V307.7M414.99 299.7H418.79M414.99 307.7H418.79M428.37 299.7V307.7M426.47 299.7H430.27M426.47 307.7H430.27M439.85 299.7V307.7M437.95 299.7H441.75M437.95 307.7H441.75M451.33 299.7V307.7M449.43 299.7H453.23M449.43 307.7H453.23" stroke="#18c018" stroke-width="1.1" fill="none"/><path d="M290.6 301.5L293.3 306.22L287.9 306.22Z" fill="#18c018"/><path d="M302.08 299.5L304.78 304.22L299.38 304.22Z" fill="#18c018"/><path d="M313.56 299.5L316.26 304.22L310.86 304.22Z" fill="#18c018"/><path d="M325.04 299.5L327.74 304.22L322.34 304.22Z" fill="#18c018"/><path d="M336.52 300.3L339.22 305.02L333.82 305.02Z" fill="#18c018"/><path d="M348 300.3L350.7 305.02L345.31 305.02Z" fill="#18c018"/><path d="M359.49 300.3L362.19 305.02L356.79 305.02Z" fill="#18c018"/><path d="M370.97 299.5L373.67 304.22L368.27 304.22Z" fill="#18c018"/><path d="M382.45 299L385.15 303.72L379.75 303.72Z" fill="#18c018"/><path d="M393.93 299.5L396.63 304.22L391.23 304.22Z" fill="#18c018"/><path d="M405.41 300.3L408.11 305.02L402.71 305.02Z" fill="#18c018"/><path d="M416.89 301L419.59 305.72L414.19 305.72Z" fill="#18c018"/><path d="M428.37 301L431.07 305.72L425.67 305.72Z" fill="#18c018"/><path d="M439.85 301L442.55 305.72L437.15 305.72Z" fill="#18c018"/><path d="M451.33 301L454.03 305.72L448.63 305.72Z" fill="#18c018"/>
<path d="M325.04 254.7L325.04 252M325.04 254.7L327.61 253.87M325.04 254.7L326.63 256.88M325.04 254.7L323.46 256.88M325.04 254.7L322.48 253.87" stroke="#ff1010" stroke-width="1.15" fill="none"/>
<path d="M336.52 237.4L336.52 234.7M336.52 237.4L339.09 236.57M336.52 237.4L338.11 239.58M336.52 237.4L334.94 239.58M336.52 237.4L333.96 236.57" stroke="#ff1010" stroke-width="1.15" fill="none"/>
<path d="M348 242.2L348 239.5M348 242.2L350.57 241.37M348 242.2L349.59 244.38M348 242.2L346.42 244.38M348 242.2L345.44 241.37" stroke="#ff1010" stroke-width="1.15" fill="none"/>
<path d="M359.49 245.3L359.49 242.6M359.49 245.3L362.05 244.47M359.49 245.3L361.07 247.48M359.49 245.3L357.9 247.48M359.49 245.3L356.92 244.47" stroke="#ff1010" stroke-width="1.15" fill="none"/>
<path d="M302.08 272.5L302.08 269.8M302.08 272.5L304.65 271.67M302.08 272.5L303.67 274.68M302.08 272.5L300.49 274.68M302.08 272.5L299.51 271.67" stroke="#0a0ac8" stroke-width="1.15" fill="none"/>
<path d="M313.56 280.7L313.56 278M313.56 280.7L316.13 279.87M313.56 280.7L315.15 282.88M313.56 280.7L311.97 282.88M313.56 280.7L310.99 279.87" stroke="#0a0ac8" stroke-width="1.15" fill="none"/>
<path d="M325.04 276.5L325.04 273.8M325.04 276.5L327.61 275.67M325.04 276.5L326.63 278.68M325.04 276.5L323.46 278.68M325.04 276.5L322.48 275.67" stroke="#0a0ac8" stroke-width="1.15" fill="none"/>
<path d="M336.52 260.9L336.52 258.2M336.52 260.9L339.09 260.07M336.52 260.9L338.11 263.08M336.52 260.9L334.94 263.08M336.52 260.9L333.96 260.07" stroke="#0a0ac8" stroke-width="1.15" fill="none"/>
<path d="M348 253.5L348 250.8M348 253.5L350.57 252.67M348 253.5L349.59 255.68M348 253.5L346.42 255.68M348 253.5L345.44 252.67" stroke="#0a0ac8" stroke-width="1.15" fill="none"/>
<path d="M359.49 254.7L359.49 252M359.49 254.7L362.05 253.87M359.49 254.7L361.07 256.88M359.49 254.7L357.9 256.88M359.49 254.7L356.92 253.87" stroke="#0a0ac8" stroke-width="1.15" fill="none"/>
<text x="35.1" y="230.8" font-size="6.35" text-anchor="start" fill="#000" stroke="#000" stroke-width="0.07">REDUCED</text>
<text x="35.5" y="330.8" font-size="6.35" text-anchor="start" fill="#000" stroke="#000" stroke-width="0.07">OXIDIZED</text>
<text x="258.3" y="230.9" font-size="6.35" text-anchor="start" fill="#000" stroke="#000" stroke-width="0.07">REDUCED</text>
<text x="258.5" y="330.6" font-size="6.35" text-anchor="start" fill="#000" stroke="#000" stroke-width="0.07">OXIDIZED</text>
</svg></body></html>
